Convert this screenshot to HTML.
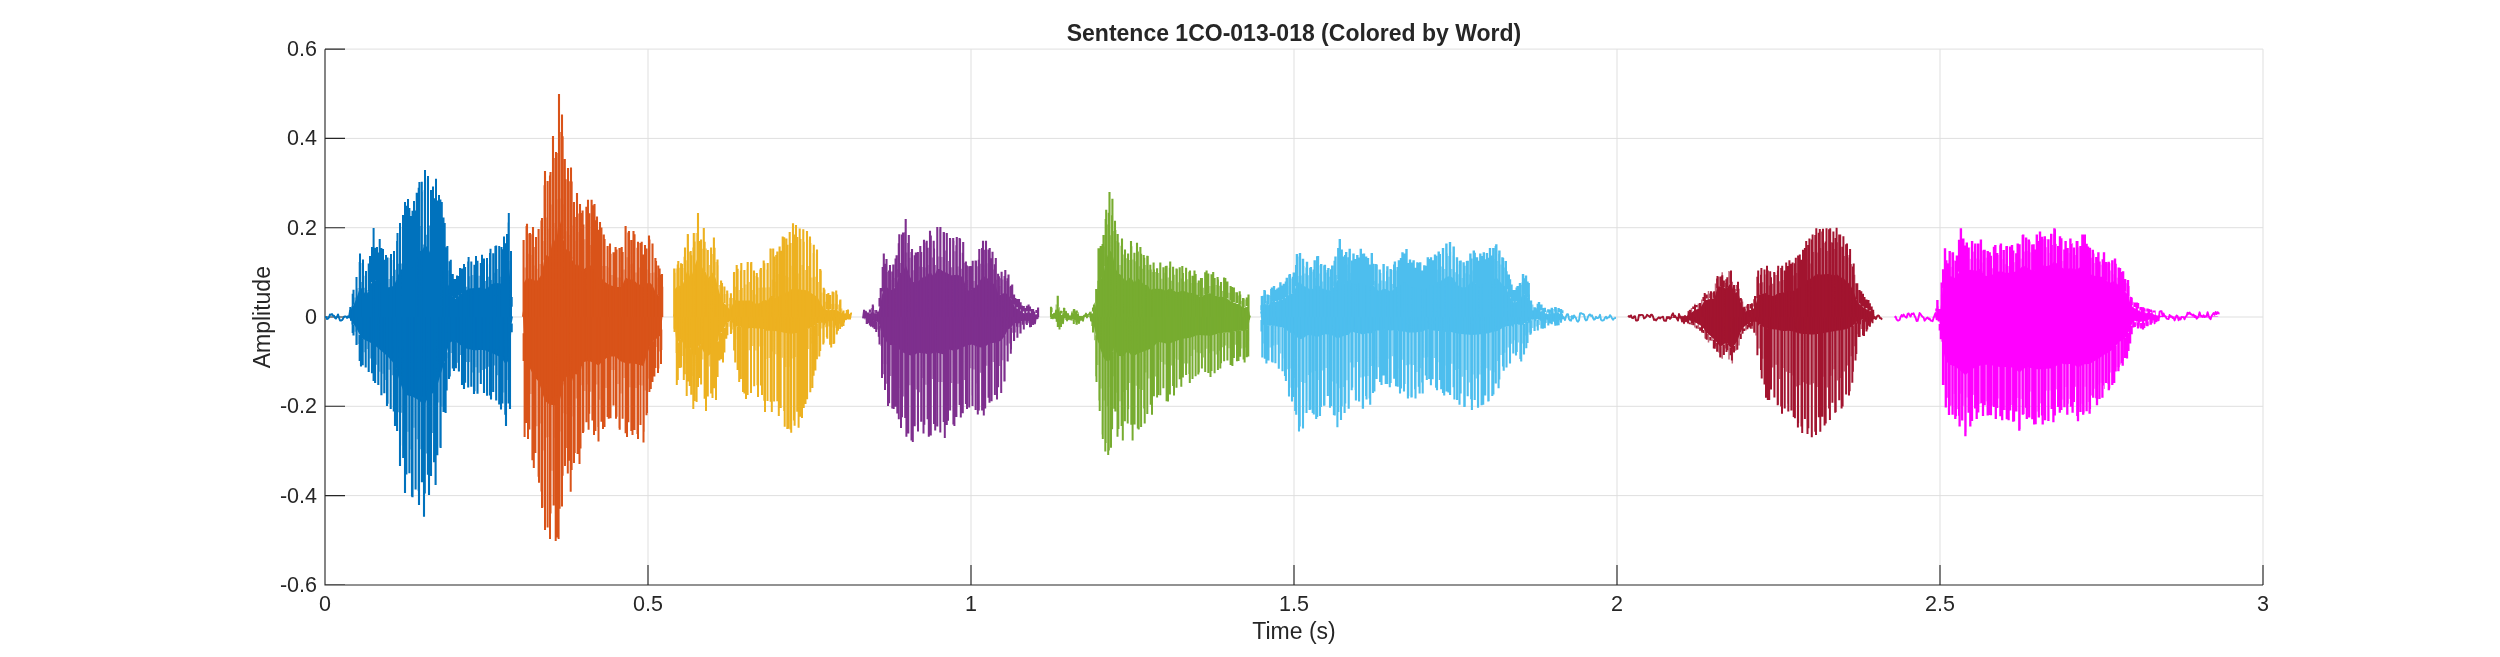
<!DOCTYPE html>
<html><head><meta charset="utf-8"><style>
html,body{margin:0;padding:0;background:#fff;width:2500px;height:657px;overflow:hidden;position:relative;font-family:"Liberation Sans",sans-serif}
</style></head><body>
<svg width="2500" height="657" viewBox="0 0 2500 657" style="position:absolute;left:0;top:0;will-change:transform">
<path d="M648.0 49.2V585M971.0 49.2V585M1294.0 49.2V585M1617.0 49.2V585M1940.0 49.2V585M2263.0 49.2V585M325 49.1H2263.0M325 138.4H2263.0M325 227.7H2263.0M325 317.0H2263.0M325 406.3H2263.0M325 495.6H2263.0" stroke="#dfdfdf" stroke-width="1" fill="none"/>
<path d="M325 49.2V585H2263.0M325 49.1H345M325 138.4H345M325 227.7H345M325 317.0H345M325 406.3H345M325 495.6H345M325 584.9H345M325.0 585V565M648.0 585V565M971.0 585V565M1294.0 585V565M1617.0 585V565M1940.0 585V565M2263.0 585V565" stroke="#262626" stroke-width="1.12" fill="none"/>
<path d="M325 317 326 316.9 327 319 328 318.7 329 317.4 330 314.4 331 314.8 332 314.1 333 315.7 334 315.6 335 318 336 318.6 337 316.8 338 314.4 339 317.7 340 320.5 341 320.5 342 320.1 343 318.8 344 316.7 345 316.5 346 316.5 347 317.9 348 316.2 349 317.5 350 310.8 351 320.1 352 308.9 353 318.5 354 313.3 355 321.5 356 316.3 357 323.1 358 311.1 359 320.6 360 312.3 361 323.2 362 311.9 363 321.6 364 314.3 365 319.9 366 314.1 367 322 368 312.6 369 319.5 370 315.8 371 321.8 372 312.2 373 321.5 374 313 375 322.4 376 312.9 377 320 378 308.5 379 317.8 380 309.3 381 319.3 382 315.6 383 322.4 384 314.9 385 319.8 386 313.9 387 322.9 388 316.1 389 322.7 390 312.6 391 323.8 392 316.7 393 321 394 308.6 395 318.8 396 317.4 397 325.4 398 316 399 324.1 400 314.5 401 319.8 402 309 403 321.5 404 312.3 405 319.4 406 309.4 407 318.4 408 310.2 409 320.8 410 313.8 411 319.4 412 308 413 321.9 414 314.6 415 325 416 314.6 417 323.8 418 311.9 419 322.1 420 314.5 421 317.4 422 311 423 318.7 424 313.1 425 317.8 426 310.5 427 320.9 428 311.6 429 319.9 430 310.6 431 321.6 432 315.1 433 320.7 434 308 435 320.5 436 313.7 437 322.1 438 313.6 439 322.7 440 310.2 441 319.1 442 313 443 322.9 444 315.4 445 318.4 446 310.6 447 319.4 448 313.6 449 320.7 450 312.3 451 318 452 313.2 453 320.9 454 311.7 455 318.1 456 309 457 319.1 458 308 459 317.5 460 314.7 461 320 462 311.2 463 318.8 464 314 465 318.9 466 309.9 467 326 468 317.7 469 319.7 470 310 471 321 472 312 473 318.3 474 314.3 475 320.5 476 309.4 477 317.1 478 311.7 479 322.5 480 312.1 481 321.8 482 316.3 483 321.4 484 311 485 322 486 313.9 487 319.1 488 308 489 318.3 490 316.4 491 323.5 492 314.4 493 317.7 494 314.3 495 321.7 496 315.8 497 321.2 498 315.1 499 324 500 313.8 501 319.1 502 313.4 503 319.6 504 313.4 505 319.2 506 313.8 507 318.8 508 309.9 509 317.1 510 309.7 511 321.9 512 316.4" stroke="#0072bd" stroke-width="1.9" fill="none" stroke-linejoin="round"/>
<path d="M325 317 326 317 327 317 328 317 329 317 330 317 331 317 332 317 333 317 334 317 335 317 336 317 337 317 338 317 339 317 340 317 341 317 342 317 343 317 344 317 345 317 346 317 347 317 348 317 349 315.9 350 314.4 351 312 352 309 353 306.2 354 304 355 301.8 356 299.6 357 296.8 358 293.5 359 290.1 360 286.8 361 287.8 362 288.8 363 289.8 364 291.7 365 293.6 366 295.5 367 293.6 368 291.8 369 289.9 370 288 371 284.1 372 280.2 373 276.3 374 275.1 375 277.9 376 280.7 377 283.5 378 282 379 280.5 380 280 381 281.5 382 283 383 284.5 384 285.5 385 286.5 386 287.5 387 287.4 388 287.3 389 287.2 390 287.1 391 287 392 286.5 393 286 394 285.5 395 282.9 396 280.4 397 277.8 398 275.5 399 273.5 400 271.5 401 270.2 402 268.8 403 267.5 404 264.2 405 261 406 260.5 407 260 408 259.5 409 262.3 410 265.2 411 268 412 265.5 413 263 414 260.5 415 259 416 257.4 417 255.8 418 253.8 419 251.8 420 251 421 250.9 422 250.5 423 248.7 424 246.8 425 245 426 246 427 247 428 248 429 250.3 430 252.7 431 255 432 254.2 433 253.3 434 252 435 250.7 436 249.4 437 252.1 438 254.8 439 257.5 440 258.8 441 260 442 261.7 443 265.3 444 269 445 272.8 446 277 447 281.3 448 284.2 449 286.2 450 288.2 451 290.5 452 293.5 453 296.5 454 299.5 455 298.9 456 298.3 457 297.8 458 296.5 459 295.2 460 294 461 293.5 462 293 463 292.5 464 292 465 291.2 466 290.5 467 289.7 468 289 469 288.5 470 288.4 471 288.3 472 288.3 473 288.2 474 288.1 475 288.1 476 288 477 287.9 478 287.8 479 287.7 480 287.6 481 287.5 482 287.4 483 287.7 484 288 485 288.4 486 288.7 487 289 488 287.7 489 286.3 490 285 491 284.2 492 283.9 493 283.7 494 283.4 495 283.1 496 283 497 283.1 498 283.2 499 283.3 500 283.4 501 283.5 502 282.4 503 280.4 504 278.2 505 277.8 506 277.4 507 277 508 271.2 509 268.2 510 276.9 511 285.5 512 317 L512 317 511 336.1 510 357.1 509 359 508 360.9 507 362.8 506 364.7 505 363.2 504 361.7 503 360.2 502 358.8 501 357.3 500 356.8 499 356.4 498 355.9 497 355.5 496 355 495 354.6 494 354.1 493 353.7 492 353.2 491 352.8 490 352.4 489 351.9 488 351.5 487 351.1 486 350.7 485 350.3 484 349.9 483 349.9 482 349.9 481 350 480 350 479 350.1 478 350.1 477 350.2 476 350.2 475 350.3 474 350.3 473 350.1 472 349.9 471 349.6 470 349.4 469 349.2 468 348.9 467 348.7 466 348.5 465 348.3 464 348.1 463 347.2 462 346.4 461 345.6 460 344.8 459 344 458 343.2 457 342.4 456 341.6 455 340.8 454 339.9 453 340.7 452 341.4 451 342.1 450 342.8 449 343.6 448 348.1 447 352.6 446 357.1 445 360.7 444 363.9 443 367 442 370.2 441 373.3 440 376.6 439 379.9 438 383.3 437 386.6 436 389.9 435 391.7 434 392.3 433 393 432 393.7 431 394.4 430 395.1 429 395.8 428 397.7 427 399.7 426 401.6 425 403.6 424 405.5 423 404.5 422 403.4 421 402.4 420 401.3 419 400.2 418 399.7 417 399.2 416 398.6 415 398.1 414 397.6 413 397 412 396.5 411 396.2 410 396 409 395.8 408 395.5 407 395.3 406 395.1 405 394.9 404 392.4 403 390 402 387.6 401 385.1 400 382.7 399 379.1 398 375.5 397 371.9 396 368.3 395 364.7 394 363.6 393 362.4 392 361.3 391 360.2 390 359.1 389 357.9 388 356.8 387 355.7 386 354.9 385 354 384 353.2 383 352.3 382 351.5 381 350.7 380 349.8 379 349 378 348.1 377 347.3 376 346.5 375 345.6 374 344.8 373 344.1 372 343.6 371 343.1 370 342.6 369 342.1 368 341.5 367 341 366 340.5 365 340 364 339.4 363 338.9 362 338.4 361 337.9 360 335.7 359 333.6 358 331.5 357 329.3 356 327.5 355 326.1 354 324.7 353 323.3 352 321.2 351 318.8 350 317.2 349 317 348 317 347 317 346 317 345 317 344 317 343 317 342 317 341 317 340 317 339 317 338 317 337 317 336 317 335 317 334 317 333 317 332 317 331 317 330 317 329 317 328 317 327 317 326 317 325 317Z" fill="#0072bd"/>
<path d="M351.9 306.2V324.4M355.1 297.6V331.7M358.1 288.3V343.9M361.3 282V348.5M364.2 287.7V352.2M367.2 290.3V349.1M370.3 275.6V358.6M373.5 255.4V354.8M376.6 268V364.7M379.8 269.8V371.8M383 273.3V373.7M385.9 283.5V379.9M389.1 279V369.7M392.3 276V375.3M395.3 269.7V383.7M398.6 263.7V412.3M401.7 263.6V412.8M404.8 257.3V423.3M408 245.3V431.8M411 246.9V449.4M414 247.8V427.7M417.2 248.9V439.3M420.2 225.9V449.3M423.4 244.4V446.2M426.4 234.7V453.4M429.5 225.6V440.3M432.6 226.9V432.9M435.7 243.9V437.6M438.8 242.4V402.6M441.9 245.1V406.8M445 257.7V381.8M448.2 270.4V358.2M451.2 278.7V352.9M454.3 295.7V349.5M457.5 287.6V362.8M460.4 288.2V355M463.5 282.5V362.6M466.6 286.8V362.1M469.7 276.3V362.1M472.8 275V372.6M476 275.4V367.2M479.1 275.8V372.7M482.3 278.9V369.9M485.6 280.9V368.8M488.6 276.8V366.7M491.5 280V364.6M494.7 272.7V365.4M497.7 269.1V375.2M500.8 276.8V368.9M503.9 265.8V392.6M506.9 263.9V379.9M510.2 261.1V369.7" stroke="#0072bd" stroke-width="1.20" stroke-opacity="0.65" fill="none"/>
<path d="M350.3 307.1V312.4M353.5 289.7V304.5M356.5 281.5V298.5M359.7 262.1V288.9M362.7 262.9V290.4M365.7 275.8V295.3M368.7 263.6V291.2M372 247V282.1M375.1 247.8V280.3M378.3 252.5V283.4M381.4 248.1V283.8M384.3 259.8V287.1M387.5 257.5V288.5M390.7 258.1V288.2M393.8 260.1V287M397.1 240.9V279.8M400.1 227.1V274.1M403.2 219.8V270M406.4 205.7V264.2M409.4 207.9V267.1M412.5 210.7V267.7M415.6 210.4V262.1M418.7 187.8V257.1M421.9 191.7V255.6M424.8 189.9V250.7M427.9 178.5V253M431 201.8V259.4M434.1 198.3V256.6M437.3 200.6V257.5M440.4 199.6V263.2M443.5 217.6V270.2M446.6 247.3V281.6M449.7 261.2V288.7M452.8 273.9V296.1M455.9 279.1V298.4M458.9 275.9V295.8M462 268.6V293.6M465.1 266.9V292M468.2 261.4V289.8M471.3 261.5V289.4M474.4 264.8V289.2M477.5 260.8V289M480.8 263V288.7M484 258.6V289.1M487.1 264.2V289.9M490 253V286.4M493.2 253.2V285.2M496.2 245.6V284.7M499.2 246.1V284.9M502.4 249.2V283.4M505.3 243.2V279.8M508.6 222.4V270.8M511.7 297.1V306.8M350.4 307.5V317M352.7 293.8V317M356.5 277V317M360 253.6V317M363 259.6V317M366 271V317M370 256V317M373.6 228V317M377 247V317M379.7 239V317M383 249V317M386 255V317M391 254V317M394 251V317M397.5 233V317M400 223V317M403 215V317M405 202V317M408 199V317M411 216V317M414 201V317M416.7 192.7V317M419.4 182V317M421.8 181.7V317M425 170V317M428 176V317M431 190V317M433 186.6V317M436 178.8V317M439 195V317M441.8 202V317M444.7 223V317M447.4 246V317M450.8 259.7V317M454 279V317M457 275.5V317M460 268V317M464 264V317M468.6 257V317M476 256V317M482 254.8V317M487 258V317M490.5 248.7V317M495.4 246V317M501.5 247V317M504 236.5V317M507 234V317M508.8 213V317M511 251V317" stroke="#0072bd" stroke-width="2.0" fill="none"/>
<path d="M353.5 335.6V324.9M356.5 343.5V328.8M359.7 361V334.9M362.7 365.2V338.2M365.7 367.4V339.6M368.7 371.9V341M372 373.3V342.6M375.1 383V344.5M378.3 385.1V346.9M381.4 395.2V349.2M384.3 393.3V351.4M387.5 403.7V354M390.7 408.9V357.2M393.8 411.4V360.3M397.1 431V368.2M400.1 445.5V378.1M403.2 458V384.8M406.4 474.6V389M409.4 473.3V389.6M412.5 497.3V390.4M415.6 489.6V391.9M418.7 490.8V393.4M421.9 482.2V396.3M424.8 493.4V396.8M427.9 474.8V391.4M431 475.9V388.3M434.1 462.2V386.4M437.3 455.2V380.4M440.4 446.8V371.2M443.5 412V362.4M446.6 390.6V352.2M449.7 376.4V342.1M452.8 368.4V340.1M455.9 368.2V340.7M458.9 371.5V342.8M462 385.1V345.1M465.1 382.8V346.8M468.2 387.6V347.4M471.3 386.8V348M474.4 391.3V348.6M477.5 393.7V348.4M480.8 383.9V348.3M484 391.1V348.2M487.1 395.8V349.3M490 395.6V350.4M493.2 392V351.7M496.2 400.6V352.9M499.2 404.4V354.1M502.4 403.4V356.7M505.3 414.7V360.6M508.6 403.4V357.1M511.7 332.2V323.4M352.7 317V333M356.5 317V345M361 317V366.4M373.6 317V381M387 317V406M395 317V426M400 317V466M405 317V493M412 317V496.6M419 317V505M424 317V516.7M429 317V495M435.6 317V485M440.6 317V448M445.6 317V413M449 317V379M454 317V371M464 317V389M474 317V394M484 317V393M491 317V399.5M501 317V409.5M506 317V426M510 317V409" stroke="#0072bd" stroke-width="2.1" fill="none"/>
<path d="M523 316.7 524 310.6 525 320.6 526 314.9 527 321.7 528 309.6 529 319.7 530 313.2 531 320.9 532 313 533 319.9 534 313.9 535 320.7 536 315.6 537 319.7 538 310 539 318.7 540 312.2 541 318.7 542 312.2 543 317.8 544 311.3 545 318.4 546 309.5 547 320.2 548 315.2 549 319.1 550 312.9 551 320 552 310.5 553 319.8 554 315.2 555 318.3 556 308 557 315.4 558 311.1 559 320.7 560 313 561 323.7 562 315.3 563 321.5 564 312.6 565 323.3 566 312.7 567 321 568 313.2 569 317.5 570 311.9 571 321.2 572 313.3 573 324.4 574 314.1 575 320.7 576 308.9 577 316.5 578 313.1 579 318 580 310.2 581 323.5 582 313.7 583 318.3 584 312.8 585 322.6 586 315.9 587 321.7 588 313.5 589 322.8 590 316.3 591 326 592 317.5 593 326 594 314.4 595 320.7 596 314.6 597 323.8 598 311.3 599 318.8 600 310.4 601 320.7 602 314 603 322.8 604 308.8 605 316.4 606 312 607 322.9 608 315.7 609 325 610 312.6 611 319.7 612 314.3 613 318.9 614 310.5 615 319.6 616 314.9 617 321 618 312.1 619 323.2 620 316.5 621 320.8 622 308.8 623 317.1 624 310.4 625 318.5 626 311.7 627 321.9 628 314.7 629 322.1 630 314.2 631 322.6 632 314.5 633 322.3 634 315 635 323.2 636 315.8 637 321.8 638 310.6 639 316.9 640 310.2 641 321.5 642 313 643 318.5 644 311.1 645 318 646 313.4 647 319 648 313.3 649 321.9 650 313.6 651 317 652 309.6 653 318.2 654 310.1 655 320.6 656 316.3 657 324 658 312.9 659 318 660 310.5 661 321.5 662 312.5" stroke="#d95319" stroke-width="1.9" fill="none" stroke-linejoin="round"/>
<path d="M523 317 524 282.8 525 280.7 526 278.6 527 276.4 528 277.8 529 279.2 530 280.6 531 279.6 532 278.8 533 277.9 534 279.4 535 280.9 536 282.4 537 281 538 279.6 539 278.2 540 276.7 541 275.3 542 273.8 543 266.8 544 259.7 545 252.6 546 254.4 547 256.1 548 256.7 549 255.7 550 254.7 551 248.8 552 242.8 553 236.9 554 239.3 555 241.7 556 244.1 557 235.4 558 226.7 559 218 560 221.1 561 224.2 562 227.3 563 234.4 564 241.5 565 247.5 566 248.8 567 250 568 251.3 569 251.2 570 251.2 571 251.1 572 256.3 573 261.4 574 266.6 575 265.2 576 263.9 577 262.6 578 264.2 579 265.9 580 267.5 581 268.6 582 269.8 583 270.1 584 269.2 585 268.3 586 267.4 587 266.5 588 265.6 589 265.6 590 265.6 591 265.6 592 265.9 593 266.5 594 267.2 595 268.6 596 270.9 597 273.2 598 274 599 274.8 600 275.6 601 277.1 602 278.6 603 280 604 281.4 605 282 606 282.7 607 283.3 608 284 609 284.6 610 285.3 611 285.6 612 285.8 613 286.1 614 286.4 615 286.7 616 286.9 617 286.9 618 286.9 619 286.9 620 286.9 621 286.9 622 286.1 623 283.7 624 281.3 625 278.9 626 277.7 627 278.3 628 279 629 279.6 630 279.6 631 279.6 632 279.6 633 279.6 634 280.2 635 281.3 636 282.3 637 283.4 638 284.5 639 284.5 640 284.5 641 284.5 642 284.6 643 285.1 644 285.5 645 285.9 646 284.9 647 283.8 648 282.8 649 281.7 650 282.7 651 283.8 652 284.8 653 286.4 654 288.6 655 290.9 656 293.1 657 294.1 658 295 659 296 660 296.9 661 298 662 299 L662 317 661 334.6 660 335.8 659 337 658 338.2 657 338.6 656 339 655 339.4 654 340.2 653 341.6 652 342.9 651 344.3 650 346.6 649 349.1 648 351.7 647 354.2 646 357.6 645 360.9 644 364.3 643 365.9 642 365.6 641 365.4 640 365.1 639 364.9 638 364.6 637 364.3 636 364 635 363.7 634 363.4 633 363.1 632 363.1 631 363.2 630 363.4 629 363.5 628 363.7 627 363.8 626 363.4 625 363 624 362.6 623 362.2 622 361.8 621 361.4 620 361 619 360 618 358.9 617 357.7 616 356.5 615 356.5 614 356.5 613 356.5 612 356.5 611 356.5 610 356.5 609 356.5 608 357 607 357.7 606 358.4 605 359.2 604 359.9 603 360.6 602 361.7 601 362.8 600 363.9 599 365 598 365.3 597 364.7 596 364.1 595 363.6 594 363 593 362.6 592 362.2 591 361.8 590 361.4 589 361 588 361 587 361.3 586 361.5 585 361.7 584 362 583 362.2 582 365.7 581 369.3 580 372.8 579 374.6 578 374.5 577 374.4 576 374.3 575 374.3 574 374.2 573 377.7 572 381.2 571 384.7 570 384 569 381.4 568 378.9 567 377.5 566 376.5 565 375.4 564 380.8 563 386.2 562 391.6 561 395.4 560 399.2 559 403.1 558 404.8 557 405 556 405.3 555 405.3 554 405.2 553 405 552 404.9 551 404.7 550 404.6 549 403.9 548 403.2 547 402.4 546 401.7 545 401 544 398.1 543 395.1 542 392.2 541 388.8 540 385.5 539 382.1 538 380.9 537 379.8 536 378.7 535 377.6 534 376.4 533 374.6 532 372.6 531 370.6 530 368.6 529 366.6 528 364.6 527 364.4 526 364.1 525 363.9 524 345.6 523 317Z" fill="#d95319"/>
<path d="M525.1 267.5V400.3M528.1 253.8V400.6M530.9 254.9V393.9M533.9 265.6V401.9M536.9 268.8V426.2M540.1 263.9V423.5M543 241.1V450.4M546.1 217.4V437.4M549.1 228.7V436.9M552 204.4V470.7M555.1 223.1V437.7M558.1 199.2V440M561.1 198.6V431.5M564.1 204.4V413.3M567.1 231.3V414.3M570.2 234.9V425M573.1 225.5V416.5M576.2 240.8V398.5M579.1 231.9V396.2M582 240.6V385.3M584.9 239.2V391M587.9 236V384.5M590.7 245.1V391.7M593.9 242.3V387M596.9 242.5V384.6M599.8 250.9V399.8M602.9 266.1V393.2M606 266.1V388.1M609.1 267.5V375.1M612 275.1V369.9M615 277.8V370.1M618 277.5V383.9M621 277.5V393.6M624.1 269.6V378M627.1 257.3V384.9M629.9 264.3V387.3M632.8 263.5V384.7M636 272.4V388M639 267.6V384.9M642 275.6V385.6M645.2 270.1V390.4M648 269.4V378.6M650.9 272.9V362.3M654 272.4V352.6M656.9 277.6V346.9M659.8 286.7V351.5M662.8 286.7V317" stroke="#d95319" stroke-width="1.10" stroke-opacity="0.65" fill="none"/>
<path d="M523.6 242.4V285.5M526.6 226V279.6M529.4 233.5V281.8M532.4 234.3V280.6M535.4 246.9V283.4M538.6 239.9V281M541.5 220.6V277.1M544.6 185.2V260.2M547.6 193.9V261.5M550.5 172.1V256.6M553.6 158.1V244.7M556.6 152.9V244.9M559.6 132V227.8M562.6 136.3V238.7M565.6 179.3V253.6M568.7 181.3V256.2M571.6 181.5V258.8M574.7 217.1V269.2M577.6 213.5V267.2M580.5 213.1V271.3M583.4 224.6V272.8M586.4 206.7V270.4M589.2 213.3V269.1M592.4 205.3V269.6M595.4 220.2V272.6M598.3 229.7V276.9M601.4 227.5V280M604.5 239V283.6M607.6 246V285.4M610.5 253.8V287M613.5 252.3V287.7M616.5 249.4V288.2M619.5 248V288.2M622.6 252.1V286.3M625.6 230.4V279.8M628.4 232.5V281.4M631.3 240V281.8M634.5 234.3V282.7M637.5 247.7V285.6M640.5 242.9V286.1M643.7 254.5V286.9M646.5 248.4V286M649.4 239.5V284M652.5 246V286.8M655.4 257.9V292.6M658.3 265.6V295.8M661.3 274.8V298.5M523.6 240V317M527 223.8V317M530 233V317M533 227V317M536 237V317M538.6 229V317M542 218V317M545 171V317M547.6 181V317M550 175.5V317M553 136V317M556 152V317M559 94V317M562 114.6V317M564.8 159V317M568 168V317M571 167.6V317M574 202V317M577 193V317M580 204V317M582.6 210.5V317M588 199.8V317M591.6 199.8V317M594.5 204V317M597 216.6V317M600 222V317M603.8 234.5V317M610 243.5V317M615.6 247V317M621.7 247V317M625.6 226V317M629 231V317M633.5 231V317M638 241.7V317M641.7 241.7V317M645 245V317M649 235.6V317M652.5 243.5V317M656 261V317M659.6 268.5V317M662 274V317" stroke="#d95319" stroke-width="2.1" fill="none"/>
<path d="M523.6 361V333.3M526.6 422.9V361M529.4 429.5V363.8M532.4 460.2V369.2M535.4 453.1V373.4M538.6 476.8V376.6M541.5 491.5V384.6M544.6 507.4V392.9M547.6 527.4V395.7M550.5 513.5V397.3M553.6 505.5V397.7M556.6 537.6V397.8M559.6 508.7V394M562.6 475.8V382.5M565.6 448V371.6M568.7 460.8V375.7M571.6 470.1V377.5M574.7 453.1V370M577.6 454V370.2M580.5 448.5V367.2M583.4 431.7V359M586.4 422.2V358.4M589.2 413.7V358.1M592.4 420.6V359.3M595.4 431V360.5M598.3 426.9V362.1M601.4 421.7V359.2M604.5 426.9V356.7M607.6 417.1V354.7M610.5 418.2V354M613.5 405.6V354M616.5 416.7V354.5M619.5 428.1V357.7M622.6 418.8V359M625.6 433.3V360.1M628.4 422.2V360.4M631.3 431V360M634.5 430.1V360.4M637.5 433.9V361.2M640.5 425V361.8M643.7 431.8V362M646.5 415.3V353.4M649.4 392.1V346.4M652.5 382V341.2M655.4 367.9V338.5M658.3 368.6V337.2M661.3 350V329.4M524.6 317V437M528 317V439M533.8 317V468M539 317V482.7M542 317V508M545 317V530M550 317V539M555.7 317V541M558.6 317V539M562 317V506.4M565 317V466M567.8 317V473.5M570.7 317V491.8M574 317V463M579.5 317V464M583 317V433M588.6 317V429.7M594 317V435M598.5 317V441.4M603 317V429M608.7 317V418.7M616 317V418.7M619.7 317V429.7M627 317V437M632.5 317V435M638 317V439M643.5 317V442.5M647 317V413M650.8 317V389M654.4 317V376.6M658 317V373M661 317V364" stroke="#d95319" stroke-width="2.0" fill="none"/>
<path d="M674 316 675 313.5 676 323.3 677 314.3 678 324.5 679 315.8 680 323.4 681 313.1 682 322.5 683 317.2 684 320.3 685 311.9 686 318.4 687 312.1 688 317.2 689 311.6 690 321.3 691 311.9 692 321.8 693 314.6 694 320.9 695 310.7 696 318.9 697 308 698 317.6 699 311.9 700 321.2 701 310.6 702 320.8 703 314.4 704 319.9 705 313.9 706 324.3 707 314.2 708 323.3 709 314.2 710 323.9 711 311.9 712 318.4 713 308.6 714 317.5 715 312.3 716 325 717 317.2 718 324.3 719 314.3 720 321.9 721 314.5 722 324.1 723 316.7 724 325.5 725 316.5 726 321.4 727 311.9 728 321.7 729 310.7 730 316.8 731 310.5 732 321.5 733 316.4 734 326 735 315.8 736 325.7 737 315.9 738 320.8 739 314.4 740 323.5 741 314.4 742 322.5 743 315.9 744 324.6 745 311.5 746 320.7 747 315.9 748 321.7 749 316.2 750 319 751 309.6 752 322.4 753 315.2 754 326 755 313.1 756 320.9 757 311.4 758 322 759 313.2 760 321.9 761 313.4 762 323.7 763 314.9 764 322.3 765 314.1 766 321.4 767 316.2 768 322.2 769 315.8 770 326 771 315.2 772 321.1 773 310.7 774 322.5 775 314.2 776 321.8 777 314.9 778 320.8 779 312.7 780 319.5 781 310.9 782 322 783 314.8 784 322.1 785 315.9 786 319.6 787 312.3 788 323.2 789 311.3 790 319.8 791 316.6 792 325.2 793 315.7 794 323.5 795 311.1 796 322.2 797 313.4 798 318.1 799 312.8 800 323.2 801 317.9 802 321.5 803 317.1 804 322.2 805 313.5 806 323.7 807 318 808 325.7 809 315.8 810 320.6 811 312.4 812 317.1 813 308 814 317.4 815 314.5 816 320.8 817 310.1 818 321.2 819 310.3 820 317.5 821 311.4 822 322 823 313.9 824 324.4 825 313.9 826 322.6 827 312.9 828 320.4 829 317.4 830 325.6 831 313.4 832 317.4 833 312.2 834 321.5 835 314.5 836 324.9 837 314.8 838 319.4 839 313.8 840 322.8 841 313.9 842 320.6 843 312.5 844 321.9 845 314.5 846 319.3 847 311.6 848 318.5 849 314.7 850 318.9 851 313.4 852 313.5" stroke="#edb120" stroke-width="1.9" fill="none" stroke-linejoin="round"/>
<path d="M674 317 675 288.9 676 287.8 677 286.6 678 285.5 679 285.5 680 286 681 286.5 682 287 683 283.7 684 280.4 685 277.2 686 274.2 687 271.3 688 269.6 689 273.2 690 276.7 691 278.2 692 274.7 693 271.2 694 267.8 695 265 696 262.1 697 259.2 698 256.3 699 264.8 700 273.2 701 271.1 702 269.1 703 267 704 266.1 705 269.4 706 272.7 707 276 708 278.4 709 277.1 710 275.9 711 274.7 712 273.4 713 272.2 714 271.5 715 275.1 716 279.5 717 283.7 718 287.6 719 291.1 720 294.4 721 297.7 722 300.8 723 301.9 724 303 725 304 726 305 727 305.9 728 307.2 729 308.5 730 309.7 731 308.2 732 305.7 733 303.3 734 301.1 735 300.5 736 299.9 737 299.6 738 300 739 300.4 740 300.9 741 300.7 742 300.6 743 300.6 744 300.5 745 300.5 746 300.4 747 300.4 748 300.4 749 300.4 750 300.4 751 300.4 752 301.1 753 302.1 754 303 755 303.3 756 303.6 757 303.8 758 303.5 759 303.2 760 302.9 761 302.2 762 301.3 763 300.5 764 299.9 765 300.1 766 300.3 767 300.5 768 300.2 769 298.5 770 296.9 771 296 772 296 773 296 774 296.6 775 297.2 776 297.9 777 297.5 778 296.7 779 295.9 780 295 781 294 782 293 783 292.3 784 292.4 785 292.6 786 292.7 787 292.4 788 291.8 789 291.2 790 290.5 791 289.7 792 288.8 793 288 794 288.2 795 288.3 796 288.5 797 288.8 798 289.1 799 289.4 800 289.6 801 289.7 802 289.8 803 289.9 804 290 805 290.1 806 290.3 807 290.4 808 291 809 291.6 810 292.2 811 292.9 812 293.6 813 294.3 814 294.9 815 295.4 816 295.9 817 296.3 818 298.1 819 300 820 301.8 821 303.5 822 305.2 823 306.9 824 308.5 825 309.4 826 309.6 827 309.9 828 310.2 829 310.2 830 310.1 831 310 832 309.8 833 309.7 834 309.7 835 309.6 836 309.5 837 310 838 310.7 839 311.4 840 312.1 841 313.1 842 314.2 843 315.4 844 316.5 845 316.3 846 316 847 315.8 848 315.6 849 316.1 850 316.6 851 317 852 317 L852 317 851 317.2 850 317.2 849 317.2 848 317.3 847 317.3 846 317.4 845 317.6 844 317.7 843 317.9 842 318 841 318.2 840 318.3 839 318.5 838 318.6 837 319.1 836 319.6 835 320.1 834 320.6 833 320.8 832 321 831 321.1 830 320.7 829 320.4 828 320 827 319.9 826 320.1 825 320.3 824 320.5 823 320.8 822 321.3 821 321.7 820 322.2 819 322.6 818 323.2 817 323.7 816 324.2 815 324.9 814 325.8 813 326.7 812 327.3 811 327.7 810 328 809 328.4 808 328.7 807 329.1 806 329.4 805 329.9 804 330.5 803 331.1 802 331.7 801 332.1 800 332.6 799 333 798 333.1 797 333.1 796 333 795 332.9 794 333.1 793 333.4 792 333.7 791 333.9 790 333.7 789 333.5 788 333.3 787 333.2 786 333.1 785 333 784 332.8 783 332.6 782 332.3 781 332 780 331.7 779 331.5 778 331.3 777 331.2 776 331.2 775 331.1 774 331 773 330.9 772 330.8 771 330.8 770 330.8 769 330.8 768 330.8 767 330.8 766 330.8 765 330.8 764 329.9 763 329.1 762 328.2 761 328.3 760 328.4 759 328.5 758 328.6 757 328.5 756 328.4 755 328.3 754 328.2 753 328.1 752 328 751 327.9 750 328.1 749 328.3 748 328.5 747 328.7 746 328.9 745 328.5 744 328.1 743 327.8 742 327.4 741 327 740 326.6 739 326.9 738 326.8 737 326.5 736 326.2 735 325.6 734 324.4 733 323 732 321.5 731 320.4 730 320.9 729 321.4 728 321.9 727 322.5 726 323.6 725 326.3 724 329 723 332 722 332.3 721 332.6 720 332.9 719 335.1 718 340.5 717 346.1 716 352 715 352.7 714 352.5 713 352.2 712 352.6 711 353.4 710 354.4 709 355.2 708 356.1 707 357.1 706 357.9 705 355.6 704 353.3 703 351 702 348.7 701 346.3 700 344 699 345.3 698 348.9 697 352.5 696 354.5 695 355.4 694 356.4 693 356.2 692 353.3 691 350.4 690 347.6 689 347.8 688 349.3 687 350.8 686 349.5 685 347 684 344.5 683 342.9 682 341.6 681 340.2 680 338.9 679 340.6 678 343.2 677 345.7 676 338.2 675 328 674 317Z" fill="#edb120"/>
<path d="M676.2 268.5V353M679.5 267.7V351.4M682.8 267.9V355.9M686.2 260.3V363.8M689.5 252V364.8M692.9 247.5V376M696.2 232.9V366M699.7 248.1V355.2M702.8 248.7V359.6M706.2 248.4V382.4M709.5 265.1V366.4M712.8 254.1V362.6M716.1 262.1V371.6M719.3 285.1V340M722.7 294.2V344.7M726 294.1V328.9M729.1 303.9V326.8M732.5 297.9V329.5M735.7 286.7V339.4M739.2 289.9V347.6M742.5 288V350.5M746 284.4V351.6M749.3 282.1V350.3M752.7 290V345.9M755.9 294.5V350.6M759.1 287.7V346.5M762.5 287.6V345.8M765.9 287.6V359.1M769.2 287.2V357.9M772.4 279.8V351.5M775.8 281.8V354.2M779 274V359.2M782.3 276.9V357.8M785.8 275.8V366.9M789 277.2V366.7M792.1 265.8V358.6M795.6 271.3V356.9M798.9 273.5V362.8M802.1 265V361.4M805.4 270.1V354.7M808.7 265.9V349.1M811.9 277.5V343.5M815.2 276.7V335.9M818.5 281.9V335.9M821.9 292.4V328.4M825.4 301.7V327.3M828.6 304.9V326.5M831.8 303.9V327.6M835.2 303.8V327.8M838.4 304.5V322.4M841.7 308.6V321M845.1 313V320M848.4 312.9V319.5" stroke="#edb120" stroke-width="1.40" stroke-opacity="0.65" fill="none"/>
<path d="M674.5 272.7V290M677.8 264.4V286.7M681.1 263.3V287.5M684.6 256.8V280.3M687.9 234.9V271.9M691.2 255.2V279.2M694.5 241.4V269.2M698 224.9V260.3M701.1 239.4V273.4M704.6 241.8V270.7M707.8 253.4V280.2M711.1 247.4V276.6M714.5 247.8V275.4M717.6 265.2V287.3M721.1 280.5V298M724.4 286.6V302.9M727.4 293.6V305.8M730.9 293.2V307.9M734.1 272V301.3M737.6 268.8V300.3M740.9 270.6V301.2M744.4 270V301M747.6 268.7V300.9M751 263.2V300.9M754.2 275.9V303.3M757.5 277.2V303.9M760.9 268.1V302.7M764.3 263.2V300.5M767.5 269.4V301.1M770.7 248.9V297M774.1 256.6V297.5M777.3 251.6V298.1M780.7 250.7V295.5M784.2 237.3V293.8M787.3 244.8V293.6M790.5 243V291.6M793.9 234.6V289.9M797.2 236.9V290.5M800.4 238.9V291.2M803.7 241.7V291.5M807.1 239.4V292M810.3 243V293.7M813.6 253.1V295.8M816.9 253.6V297.2M820.2 269V302.5M823.7 287.7V307.8M826.9 294V309.4M830.1 295.1V309.6M833.5 292.2V309.3M836.8 294.4V309.4M840.1 300.5V311.5M843.5 310.5V314.8M846.8 310V314.8M674.2 268.6V317M678.3 261V317M682 264V317M685 247.6V317M687.8 233.9V317M690.7 251V317M693.8 233V317M698 212.9V317M700 241V317M703.8 228V317M707.8 250V317M713.9 237.5V317M717.5 259.4V317M722 283V317M727.2 290.5V317M730.3 297.8V317M734 273V317M736.7 265V317M741.3 263V317M747.7 262V317M751.3 262V317M754 270.4V317M756.8 273V317M760.4 269.5V317M763.7 260.4V317M767.7 263V317M770.5 248.5V317M773.2 248.5V317M776.3 255V317M779.6 246.6V317M782.7 236.6V317M786.4 238.4V317M789.7 232V317M793 223.3V317M796 225V317M799.7 228.4V317M803.3 229.3V317M807 231V317M810 236.6V317M813.8 244.8V317M817 249.4V317M820.7 270.4V317M824.4 289.6V317M828.4 293V317M832.6 291.4V317M836.2 290.5V317M840.4 299.6V317M848 309.6V317" stroke="#edb120" stroke-width="2.1" fill="none"/>
<path d="M674.5 332V324.1M677.8 379.9V342.6M681.1 367.4V339.7M684.6 374.3V344.6M687.9 381.4V347.8M691.2 394.7V349.3M694.5 400.9V353.6M698 387V347.3M701.1 384.5V345.3M704.6 398.8V352.5M707.8 396.5V354M711.1 393.6V351.3M714.5 388.2V350.7M717.6 377V341.5M721.1 359.2V332.4M724.4 352.4V328.1M727.4 335.2V322.8M730.9 334.1V321M734.1 350.4V324.5M737.6 370V326.4M740.9 379.1V326.5M744.4 393.5V327.7M747.6 394.9V327.9M751 383V327.4M754.2 386.2V327.6M757.5 385.2V327.9M760.9 385.6V327.7M764.3 400.7V329.4M767.5 401V330M770.7 401.7V330M774.1 401.4V330.1M777.3 401.2V330.4M780.7 408.1V331M784.2 411V331.8M787.3 428.9V332.2M790.5 429.6V332.6M793.9 420.6V332M797.2 411.7V332M800.4 416.8V331.4M803.7 407.9V329.8M807.1 399.2V328.4M810.3 392.3V327.4M813.6 375.7V325.8M816.9 359.2V323.6M820.2 351V322.1M823.7 342.8V320.8M826.9 337.2V320.1M830.1 344.7V320.9M833.5 344.1V320.8M836.8 334.4V319.6M840.1 328.9V318.7M843.5 326.1V318.3M674.3 317V328.8M676.8 317V385M679.8 317V368M683.8 317V380M686.7 317V396M689.7 317V386M693.3 317V409M696.6 317V402M699.6 317V378M706 317V411M712.5 317V398M716 317V400M719.4 317V360.5M723 317V362.4M726.3 317V338.7M731.3 317V332.8M735.2 317V362.4M739.2 317V382M743 317V392M746 317V399M751 317V393M758 317V397M762 317V395M765 317V412M771.8 317V412M778.8 317V416M784.7 317V426.8M788.3 317V428.8M791.2 317V432.7M794.6 317V425.8M798.6 317V427.8M802 317V417.9M805.5 317V404M812.4 317V388M815.4 317V370.4M819.3 317V356.5M823.3 317V344.6M827.3 317V338.7M831.2 317V347.6M834.2 317V343.6M838 317V330.8M842 317V326.8" stroke="#edb120" stroke-width="2.0" fill="none"/>
<path d="M863 318.4 864 310.5 865 317.9 866 311.8 867 317.7 868 313.1 869 322.6 870 313.9 871 326 872 313.1 873 320.1 874 315.4 875 321.9 876 313.8 877 321.1 878 312.6 879 317 880 311 881 321.5 882 312.3 883 318.8 884 308 885 318.7 886 317.8 887 326 888 315.7 889 321.6 890 314.9 891 318.8 892 309.9 893 320.2 894 310 895 317.8 896 310 897 318.8 898 314 899 321.3 900 312.6 901 325.2 902 313 903 319.5 904 313.6 905 319.7 906 314.4 907 324.3 908 319.3 909 322.2 910 314.6 911 324.4 912 312.7 913 321.4 914 313.4 915 317.2 916 310.8 917 320.6 918 311.8 919 319.7 920 315.2 921 323.2 922 317.9 923 325.7 924 315.1 925 322.2 926 314.6 927 322.4 928 318 929 326 930 315 931 324.7 932 313.6 933 320.8 934 313.6 935 320.2 936 312.1 937 323 938 315 939 323.6 940 309.8 941 317.7 942 310.9 943 323.4 944 312.8 945 321.7 946 313.4 947 321 948 311.3 949 316.6 950 311.1 951 322.5 952 313.7 953 323.1 954 313.6 955 319.5 956 314 957 317.4 958 308 959 318.7 960 314 961 320 962 312.4 963 322 964 315 965 319.6 966 317.5 967 326 968 315.3 969 321.6 970 318.5 971 324.2 972 315.5 973 321.5 974 315 975 318.6 976 309.5 977 317.9 978 314 979 322.2 980 312.2 981 318.1 982 313.9 983 324.6 984 310.6 985 318.1 986 315 987 323.6 988 314.1 989 324.7 990 315 991 322.4 992 312.3 993 320.9 994 315.1 995 319.7 996 309.4 997 318.4 998 312.6 999 323.1 1000 313.8 1001 319.7 1002 312.7 1003 321.8 1004 311.6 1005 315.8 1006 310 1007 320.3 1008 310.7 1009 320.4 1010 315.6 1011 322.2 1012 310.6 1013 319.3 1014 312.4 1015 317 1016 314.5 1017 326 1018 315.3 1019 322.5 1020 315.5 1021 320.4 1022 313.8 1023 323.7 1024 315.9 1025 320 1026 314 1027 321.1 1028 314.9 1029 320.5 1030 313.9 1031 321.9 1032 312.3 1033 323 1034 312.4 1035 323.5 1036 315.1 1037 318.3 1038 317.1" stroke="#7e2f8e" stroke-width="1.9" fill="none" stroke-linejoin="round"/>
<path d="M863 317 864 315.5 865 315 866 315.3 867 315.6 868 315.8 869 315.3 870 314.4 871 313.5 872 312.6 873 312 874 312.9 875 313.8 876 314.7 877 315.5 878 313.5 879 309.5 880 305.5 881 300.9 882 294.7 883 288.6 884 283.9 885 285.1 886 286.2 887 287.2 888 288.2 889 289.1 890 290.1 891 289.9 892 289.8 893 289.8 894 288.7 895 287.1 896 285.6 897 283 898 278.7 899 274.4 900 273 901 272.7 902 272.4 903 272.2 904 269.4 905 266.7 906 265.6 907 268.4 908 271.3 909 274 910 276.4 911 278.8 912 281.2 913 281.8 914 282.3 915 282.8 916 283.1 917 282.3 918 281.5 919 280.6 920 279.8 921 279 922 278 923 277.1 924 276.2 925 276.4 926 276.6 927 276.2 928 274.5 929 272.9 930 271.2 931 272.7 932 274.2 933 275.6 934 276.1 935 274 936 271.9 937 269.8 938 269.1 939 269.1 940 269.1 941 269.7 942 270.5 943 271.3 944 272.2 945 272.3 946 272.4 947 272.6 948 273.5 949 274.3 950 275.2 951 275.2 952 275.2 953 275.2 954 275.1 955 274.9 956 274.8 957 274.7 958 275 959 275.4 960 275.7 961 276.2 962 276.8 963 277.3 964 280.2 965 283.7 966 287.1 967 290.3 968 290.4 969 290.5 970 290.6 971 290 972 288.7 973 287.7 974 287.7 975 287.7 976 287.7 977 285.8 978 283.8 979 281.8 980 280.4 981 279.2 982 277.9 983 276.7 984 276.7 985 276.7 986 276.7 987 277.8 988 278.9 989 279.9 990 280.9 991 281.6 992 282.4 993 283.3 994 284.3 995 285.4 996 286.8 997 290.1 998 293.3 999 296.2 1000 295.3 1001 294.3 1002 293.7 1003 293.4 1004 293.1 1005 292.9 1006 293.3 1007 294.1 1008 294.9 1009 296 1010 297.5 1011 299 1012 300.5 1013 302.7 1014 305.1 1015 307.5 1016 308.3 1017 308.5 1018 308.6 1019 308.8 1020 310.1 1021 311.4 1022 312.4 1023 312.8 1024 313.2 1025 313.6 1026 313.3 1027 312.7 1028 312.2 1029 312.1 1030 312.9 1031 313.7 1032 314.3 1033 314.6 1034 314.9 1035 315.2 1036 314.9 1037 314.2 1038 313.4 L1038 317 1037 317.7 1036 317.9 1035 318.2 1034 318.5 1033 318.7 1032 319 1031 319.2 1030 319.1 1029 318.9 1028 318.8 1027 318.6 1026 318.9 1025 319.4 1024 319.8 1023 320.2 1022 320.6 1021 321.1 1020 321.5 1019 321.8 1018 322.2 1017 322.6 1016 323 1015 323.3 1014 323.7 1013 325 1012 326.3 1011 327.5 1010 328.4 1009 329.1 1008 329.8 1007 331.3 1006 333.4 1005 335.4 1004 337.1 1003 338.3 1002 339.4 1001 340.5 1000 341 999 341.4 998 341.9 997 342.4 996 342.6 995 342.7 994 342.8 993 343 992 343.1 991 343.3 990 343.4 989 343.8 988 344.5 987 345.3 986 346 985 346.7 984 347.4 983 347.5 982 347.5 981 347.4 980 347.3 979 347.3 978 347.2 977 346.8 976 346.3 975 345.8 974 345.3 973 344.8 972 344.6 971 344.8 970 345 969 345.1 968 345.3 967 345.5 966 345.9 965 346.4 964 346.8 963 347.3 962 347.7 961 348.1 960 348.6 959 349 958 349.4 957 349.8 956 350.2 955 350.7 954 350.8 953 350.6 952 350.3 951 350 950 349.8 949 349.5 948 349.3 947 351 946 352.7 945 354.4 944 354.5 943 354.3 942 354 941 353.8 940 353.5 939 353.3 938 353 937 352.8 936 352.5 935 352.4 934 352.7 933 353 932 353.4 931 353.7 930 354 929 354.3 928 354.2 927 354 926 353.8 925 353.6 924 353.4 923 353.3 922 353.2 921 353 920 352.9 919 352.8 918 352.7 917 353.3 916 354 915 354.6 914 355.3 913 355.9 912 355.8 911 355.6 910 355.3 909 355.1 908 354.8 907 354.5 906 354.2 905 353.6 904 353.1 903 352.6 902 352.1 901 351.6 900 350.3 899 349 898 347.8 897 346.8 896 346.4 895 346 894 345.6 893 345.4 892 345.2 891 345 890 344.9 889 344.7 888 344.5 887 342.8 886 341.1 885 339.4 884 338.1 883 336.8 882 335.6 881 331.4 880 327.3 879 323.2 878 321.9 877 321.3 876 320.7 875 320.2 874 319.8 873 319.6 872 319.3 871 319.1 870 318.9 869 318.7 868 318.5 867 318.3 866 317.6 865 317 864 317 863 317Z" fill="#7e2f8e"/>
<path d="M865.1 311.3V319.4M868.3 313V322.9M871.5 307.9V324.1M874.6 310.1V324.4M877.8 311.3V329.5M881.1 290.6V346.1M884.3 277.5V364.1M887.3 271.9V364.3M890.7 280V375.9M893.9 278.1V380.2M897.2 269V367.6M900.4 263.1V388M903.6 252.5V396.5M906.8 252.6V387.7M909.9 257.7V385.3M913.1 270.2V387.7M916.3 264.9V389.4M919.5 266.6V392.2M922.8 267V378.1M925.9 267.6V384.7M929.2 264.9V399.9M932.4 257.6V379.1M935.6 265V394.5M938.9 256.4V382M941.9 257V382M945.3 250.4V395.6M948.4 260.9V377.6M951.7 267.3V383M955 251.3V382.4M958 266.5V383.7M961.2 268.7V376.5M964.4 262.7V379.9M967.5 280.1V369.9M970.8 282.9V368.2M974 280.9V369.5M977.2 266.3V383.6M980.4 263.8V372.7M983.7 264.7V373.9M986.8 263.3V365.8M990.1 266.5V369.9M993.2 269.5V362.1M996.5 279.7V367.1M999.7 285.9V365.9M1002.8 279.6V360.3M1006.2 281.1V345.6M1009.3 286.8V343.6M1012.6 294.9V332.8M1015.7 303V332.4M1019 301.8V327.3M1022.2 307.4V325.1M1025.4 310.7V323.7M1028.5 306.2V323.2M1031.6 310.2V322.6M1034.7 311.6V321.5M1038 308.7V318.7" stroke="#7e2f8e" stroke-width="1.30" stroke-opacity="0.65" fill="none"/>
<path d="M869.9 309.5V312.7M873 305.9V310.5M876.2 309.9V313.1M879.5 298.1V306.4M882.7 267.1V291.4M885.7 263.7V287M889.1 270.5V290M892.3 271.4V290.6M895.6 258.6V287.3M898.8 243.3V277.4M902 234.6V274.9M905.2 232.2V269.3M908.3 243.1V274.6M911.5 252V281.7M914.7 255.2V284.1M917.9 252.1V283.1M921.2 251.9V280.6M924.3 242.6V278.3M927.6 247.7V277.4M930.8 235.6V274.8M934 248.6V278.1M937.3 226.9V272M940.3 229.3V272M943.7 232V274.5M946.8 243.1V275M950.1 239.2V277.4M953.4 240.7V277.4M956.4 245.2V277M959.6 238.1V277.7M962.8 252.8V279.2M965.9 261.4V287.9M969.2 266.2V291.2M972.4 266.5V289.1M975.6 260.6V288.7M978.8 259.8V283.7M982.1 248V279.8M985.2 249.7V278.7M988.5 249.4V281.1M991.6 258.3V283.6M994.9 264.2V286.4M998.1 273.7V294M1001.2 278.2V294.4M1004.6 276.1V293.4M1007.7 278.3V294.9M1011 285.7V298.8M1014.1 294.4V304.4M1017.4 298.9V307.4M1020.6 302.3V309.4M1023.8 306.1V311.5M1026.9 305.7V311.2M1030 306.6V311.3M1033.1 309V312.9M1036.4 309.9V312.9M864.2 310V317M872.8 304.6V317M880.7 288V317M883.8 253.5V317M886.5 259V317M890 265V317M893.3 264.4V317M896.6 255.3V317M899.3 234.3V317M903 232.5V317M905.7 219V317M908.8 235V317M912 249V317M915.8 252.6V317M920.3 246V317M924 239.8V317M926.7 240.7V317M930 230.7V317M933.7 240.7V317M937.3 227V317M940.4 227V317M944 232.5V317M946.8 233V317M950 238V317M953.2 238V317M956.8 237V317M960 238.9V317M963.2 242V317M966.9 265.4V317M970.5 266V317M972.7 260.8V317M976 260.8V317M979.3 249V317M983 240.7V317M986 240.7V317M989.7 248V317M992.5 251.7V317M995.8 258V317M998.9 276.3V317M1001.6 271.8V317M1005.3 270V317M1008.5 274.5V317M1012.2 284.5V317M1015.3 298V317M1019 299V317M1021.7 305.5V317M1025.3 308V317M1028.6 304.6V317M1031.7 309V317M1038.1 307.4V317" stroke="#7e2f8e" stroke-width="2.1" fill="none"/>
<path d="M866.7 324.1V319.1M869.9 325.5V319.9M873 327.4V320.5M876.2 332.1V321.6M879.5 344.4V325.7M882.7 374.2V335.6M885.7 383.8V339.4M889.1 403.2V343.1M892.3 408.5V343.6M895.6 406.7V344.5M898.8 419.2V346.8M902 417.2V349.7M905.2 417.9V351.2M908.3 433.6V352.2M911.5 440.6V353M914.7 426.2V352.2M917.9 425.2V350.3M921.2 421.8V350.6M924.3 424.7V351M927.6 419.2V351.6M930.8 435.5V351.2M934 424.1V350.3M937.3 426.6V350.4M940.3 432.4V351.1M943.7 421.9V351.9M946.8 424.9V349M950.1 410.5V347.7M953.4 424.5V348.4M956.4 417.1V347.9M959.6 405.1V346.7M962.8 413.3V345.4M965.9 404.1V344.2M969.2 407.4V343.4M972.4 395.5V342.9M975.6 409.9V344.4M978.8 410.5V345.4M982.1 410.6V345.6M985.2 408.5V344.8M988.5 397.7V342.6M991.6 401.3V341.7M994.9 395.1V341.3M998.1 387.2V340.6M1001.2 386.9V339.1M1004.6 381.3V335.5M1007.7 361.4V329.9M1011 349.6V327.7M1014.1 340.8V324.2M1017.4 337.7V323M1020.6 333.4V322M1023.8 329.4V320.7M1026.9 324.8V319.6M1030 327.2V320M1033.1 325.1V319.7M867 317V324M874.5 317V329M878.8 317V336.7M882 317V378M885 317V390M888 317V406M893.7 317V409M897.3 317V413.4M901 317V428M906.4 317V436.8M912.8 317V442M918 317V431.5M923.5 317V433.6M928.8 317V436.8M935.2 317V430.4M944.8 317V437.9M948 317V420.8M954.4 317V426M960.8 317V417.6M967 317V409M972.5 317V406M977.8 317V414.4M983.8 317V415.5M989.5 317V402.7M997 317V399.5M1001.2 317V393M1004.4 317V381.4M1007.6 317V361M1010.8 317V353.7M1014 317V341M1020.4 317V333.5M1026.8 317V325M1031 317V327" stroke="#7e2f8e" stroke-width="2.0" fill="none"/>
<path d="M1051 318.9 1052 314.6 1053 318.4 1054 313.7 1055 318.1 1056 310.5 1057 321 1058 315.2 1059 322 1060 313.6 1061 321.7 1062 316 1063 323.4 1064 313.5 1065 317.4 1066 311.7 1067 320.5 1068 314 1069 319.2 1070 316.3 1071 319.4 1072 313.3 1073 318.9 1074 314.2 1075 319.2 1076 312.4 1077 321.8 1078 314.7 1079 323.1 1080 316.6 1081 319.9 1082 316.7 1083 320.8 1084 315.6 1085 315.9 1086 313.6 1087 317.5 1088 314.9 1089 314.4 1090 312.6 1091 320.4 1092 314.1 1093 322.5 1094 314 1095 323.2 1096 311.8 1097 318.9 1098 312 1099 321.2 1100 311.8 1101 323.3 1102 314.2 1103 322.2 1104 314 1105 326 1106 315.8 1107 318.7 1108 310.7 1109 320.4 1110 316.8 1111 325.5 1112 315.9 1113 323.9 1114 318.4 1115 323.4 1116 314 1117 319.7 1118 312.8 1119 322.4 1120 312.2 1121 322.8 1122 309 1123 316.6 1124 313.7 1125 322.8 1126 311.5 1127 317.7 1128 311.2 1129 318.9 1130 312.4 1131 318.7 1132 316.7 1133 325.6 1134 314.2 1135 322.3 1136 313.1 1137 319 1138 313.8 1139 320.2 1140 314.2 1141 325 1142 318.5 1143 323.2 1144 311.1 1145 318.6 1146 313.7 1147 319.3 1148 308 1149 318 1150 313.4 1151 323.8 1152 312.6 1153 322.8 1154 315.9 1155 323.3 1156 315.5 1157 318.6 1158 313.3 1159 319.5 1160 312.8 1161 320.3 1162 310.9 1163 316.5 1164 309.9 1165 319.2 1166 309.4 1167 319.6 1168 312.6 1169 322 1170 308 1171 318.9 1172 311.5 1173 317.2 1174 310 1175 321.9 1176 313.6 1177 320 1178 313.8 1179 322.8 1180 314.3 1181 323.1 1182 316.3 1183 323.4 1184 312.4 1185 322.1 1186 316.9 1187 322.5 1188 314 1189 318.8 1190 311.3 1191 322.4 1192 311.6 1193 320.6 1194 314.8 1195 323 1196 313.3 1197 320.4 1198 310 1199 318.3 1200 315.2 1201 326 1202 314.4 1203 319.6 1204 310.8 1205 323.9 1206 315.3 1207 321.3 1208 310 1209 317.4 1210 308 1211 316.1 1212 310.8 1213 322.1 1214 313 1215 322.2 1216 315 1217 324 1218 317.3 1219 322.7 1220 312.3 1221 320.5 1222 310.4 1223 322 1224 316.1 1225 322.1 1226 311.1 1227 316.5 1228 310.6 1229 320.7 1230 310.6 1231 319.6 1232 310.5 1233 318.2 1234 314.1 1235 325.2 1236 317.9 1237 324.2 1238 309.1 1239 319.2 1240 308.2 1241 317.3 1242 312.9 1243 321.8 1244 311.9 1245 321.3 1246 314.7 1247 316.6 1248 310.6 1249 319 1250 315.5" stroke="#77ac30" stroke-width="1.9" fill="none" stroke-linejoin="round"/>
<path d="M1051 313 1052 314.1 1053 315.2 1054 316.3 1055 314.7 1056 311.8 1057 308.9 1058 307.7 1059 310.2 1060 312.8 1061 315.4 1062 314.8 1063 314.3 1064 313.8 1065 314.1 1066 314.8 1067 315.5 1068 316.2 1069 316.5 1070 316.1 1071 315.7 1072 315.2 1073 314.8 1074 314.3 1075 314.6 1076 315 1077 315.4 1078 315.8 1079 316.2 1080 316.4 1081 316.3 1082 316.2 1083 316.2 1084 316.1 1085 316.1 1086 316.2 1087 316.2 1088 316.3 1089 316.3 1090 316.4 1091 316.2 1092 314.7 1093 313.3 1094 311.8 1095 308.1 1096 304.4 1097 296.1 1098 286 1099 280.6 1100 280 1101 279 1102 276.8 1103 274.6 1104 271 1105 265.8 1106 260.7 1107 257.3 1108 254.3 1109 251.4 1110 250.5 1111 251.8 1112 253.1 1113 256.4 1114 261 1115 265.7 1116 268.4 1117 271.1 1118 273.2 1119 273.7 1120 274.3 1121 274.9 1122 275.4 1123 277.4 1124 279.5 1125 281.5 1126 280.7 1127 279.9 1128 279.2 1129 278.4 1130 277.6 1131 276.9 1132 278.7 1133 280.6 1134 282.5 1135 282 1136 279.9 1137 277.8 1138 278.5 1139 279.2 1140 279.9 1141 280.9 1142 282.3 1143 283.6 1144 284.6 1145 284.7 1146 284.9 1147 285 1148 285.7 1149 287.5 1150 289.4 1151 289.7 1152 289.3 1153 288.9 1154 288.7 1155 288.7 1156 288.7 1157 288.7 1158 288.7 1159 288.7 1160 288.7 1161 289 1162 289.3 1163 289.6 1164 290 1165 290.3 1166 290.5 1167 289.9 1168 289.4 1169 288.8 1170 288.2 1171 288.6 1172 289.3 1173 289.9 1174 290.6 1175 291.2 1176 291.9 1177 292.3 1178 292 1179 291.7 1180 291.4 1181 291 1182 290.7 1183 290.8 1184 291.1 1185 291.4 1186 291.8 1187 292.1 1188 292.4 1189 292.7 1190 293 1191 293 1192 293 1193 293 1194 293 1195 293.3 1196 294 1197 294.6 1198 295.3 1199 295.9 1200 296.6 1201 297.2 1202 296.5 1203 295.7 1204 295 1205 294.2 1206 293.5 1207 293.1 1208 293.2 1209 293.3 1210 293.5 1211 293.6 1212 293.7 1213 293.9 1214 294.4 1215 295 1216 295.7 1217 296.3 1218 296.7 1219 296.8 1220 296.8 1221 296.9 1222 297 1223 297 1224 297.1 1225 297.2 1226 297.7 1227 298.5 1228 299.2 1229 299.9 1230 300.7 1231 301.4 1232 302.1 1233 302.5 1234 302.8 1235 303.1 1236 303.4 1237 303.7 1238 304 1239 304.3 1240 304.8 1241 306 1242 307.1 1243 308.2 1244 307.9 1245 307.5 1246 307.2 1247 306.8 1248 306.5 1249 310.6 1250 317 L1250 317 1249 323.5 1248 329.2 1247 329.7 1246 330.3 1245 330.8 1244 331 1243 330.9 1242 330.8 1241 330.7 1240 330.7 1239 330.6 1238 330.7 1237 330.9 1236 331.2 1235 331.5 1234 331.7 1233 332 1232 332.2 1231 332.3 1230 332.4 1229 332.4 1228 332.5 1227 332.6 1226 332.6 1225 332.7 1224 332.8 1223 332.8 1222 332.9 1221 333 1220 333.1 1219 333.4 1218 333.7 1217 334 1216 334.3 1215 334.5 1214 334.8 1213 335.1 1212 335.4 1211 335.7 1210 335.8 1209 335.7 1208 335.6 1207 335.6 1206 335.5 1205 335.5 1204 335.4 1203 335.3 1202 335.3 1201 335.2 1200 335.1 1199 335.1 1198 335.1 1197 335.4 1196 335.8 1195 336.1 1194 336.4 1193 336.7 1192 337.1 1191 337.4 1190 337.7 1189 337.9 1188 338.1 1187 338.2 1186 338.4 1185 338.5 1184 338.6 1183 338.8 1182 338.9 1181 339.2 1180 339.5 1179 339.9 1178 340.3 1177 340.7 1176 341.1 1175 341.5 1174 341.9 1173 342.2 1172 342.5 1171 342.9 1170 343.2 1169 343.5 1168 343.9 1167 343.7 1166 343.4 1165 343.2 1164 343 1163 342.8 1162 342.6 1161 342.4 1160 342.2 1159 342 1158 341.8 1157 342.8 1156 343.9 1155 345 1154 346.1 1153 347.2 1152 348.3 1151 348.7 1150 349.1 1149 349.5 1148 349.8 1147 350.2 1146 350.6 1145 351 1144 351.4 1143 351.7 1142 352 1141 352.4 1140 352.7 1139 353 1138 353.5 1137 354.1 1136 354.7 1135 355.3 1134 355.9 1133 356.5 1132 356 1131 354.9 1130 353.8 1129 352.6 1128 351.5 1127 351.9 1126 353.1 1125 354.2 1124 355.4 1123 356.5 1122 356.6 1121 356.3 1120 356.1 1119 355.9 1118 355.7 1117 354.1 1116 351.2 1115 348.3 1114 347.4 1113 351.3 1112 355.2 1111 359.1 1110 360 1109 360.9 1108 361.5 1107 361.1 1106 360.6 1105 359.9 1104 358.2 1103 356.6 1102 353.9 1101 350.9 1100 347.9 1099 344.9 1098 341.9 1097 339 1096 335.2 1095 330.7 1094 326.2 1093 321.7 1092 318.7 1091 318.1 1090 317.4 1089 317 1088 317 1087 317 1086 317 1085 317.1 1084 317.3 1083 317.5 1082 317.6 1081 317.8 1080 318 1079 318.1 1078 318.3 1077 318.5 1076 318.5 1075 318.4 1074 318.3 1073 318.2 1072 318.1 1071 318 1070 317.9 1069 317.8 1068 317.7 1067 317.6 1066 317.5 1065 317.4 1064 317.6 1063 318.1 1062 318.7 1061 319.3 1060 319.9 1059 319.9 1058 319.2 1057 318.6 1056 318 1055 317.4 1054 317 1053 317 1052 317 1051 317Z" fill="#77ac30"/>
<path d="M1056.2 304.5V321.7M1059.4 307.3V325.5M1062.6 310.9V321.7M1065.6 311.5V319.9M1072 311V320.9M1075.4 310.4V322.2M1078.4 312.3V321.4M1091.3 311.5V322M1094.6 302.8V340.3M1097.8 280.7V364.9M1101 262.6V388.4M1104.2 246.7V400.5M1107.3 224.6V406.4M1110.4 235.2V387.1M1113.7 230.9V376.3M1116.9 241.1V392.8M1120 264.9V401.3M1123.2 254.6V392M1126.5 258.2V390.1M1129.7 260V383M1132.9 259.4V384.6M1136.2 262.3V385.8M1139.4 266.2V389M1142.7 268.7V390.1M1145.8 265V372.5M1148.9 269.8V378.4M1152.3 272V369.5M1155.5 271.9V376.5M1158.7 273.1V359.7M1161.9 278.7V362M1165 272.8V364.5M1168.2 277.5V360.9M1171.5 280.8V365.6M1174.7 274.8V358.8M1178.1 282.2V359.7M1181.3 278.6V364.2M1184.5 281.5V363.5M1187.7 279.2V363.5M1191 283.1V355.9M1194.1 283.5V349.8M1197.2 282.7V352.4M1200.4 289.8V353.2M1203.5 287.7V357.5M1206.8 285.1V348.8M1209.9 285.9V353.2M1213.1 285.6V351.2M1216.2 285V354.6M1219.5 285.8V350.8M1222.6 291V347.3M1225.7 286.7V345.4M1229 292.7V348.3M1232.2 291.6V345.6M1235.5 292.3V344.7M1238.6 295.4V341.2M1241.8 301V348.4M1245.2 299.6V347.6M1248.4 297.7V341.3" stroke="#77ac30" stroke-width="1.30" stroke-opacity="0.65" fill="none"/>
<path d="M1051.5 307.7V312M1057.8 295.9V306.2M1061 310.8V313.5M1064 307.8V312.1M1073.8 309.4V312.7M1076.8 310.5V313.5M1093 307.4V311.6M1096.2 289.2V303M1099.4 248.2V282M1102.6 243.9V277.7M1105.7 219.1V265.9M1108.8 212.7V256.4M1112.1 215.2V257.6M1115.3 230V269.5M1118.4 242.6V275.8M1121.6 245.8V277.4M1124.9 258.4V282.8M1128.1 253.4V280.9M1131.3 246.2V279.4M1134.6 260.9V284.3M1137.8 251.4V280.3M1141.1 253.7V282.7M1144.2 257.7V285.9M1147.3 255.7V286.3M1150.7 269.6V290.5M1153.9 269.6V289.6M1157.1 268.2V289.6M1160.3 270.1V289.6M1163.4 267.3V290.5M1166.6 265.8V290.8M1169.9 267.8V289.2M1173.1 266.7V290.7M1176.5 268.4V292.7M1179.7 267.2V292M1182.9 272.9V291.4M1186.1 267.8V292.3M1189.4 271.7V293.3M1192.5 275.7V293.4M1195.6 274V294.1M1198.8 280.6V295.9M1201.9 278V296.6M1205.2 272.2V294.4M1208.3 273.6V293.6M1211.5 274.3V294M1214.6 278V295M1217.9 279.4V296.7M1221 281.9V296.9M1224.1 277.5V297.1M1227.4 281.6V298.6M1230.6 286.1V300.7M1233.9 287.4V302.2M1237 292.2V303M1240.2 294.6V304.3M1243.6 298.3V306.9M1246.8 297.5V305.9M1051 306.8V317M1057.7 295.7V317M1064.3 307.9V317M1074.2 309V317M1094 304.6V317M1096.3 289V317M1098.5 248.3V317M1100.7 246V317M1103.5 235V317M1106.2 209.7V317M1109.5 192V317M1112.4 198.7V317M1115 220.7V317M1117.7 234V317M1122 238.4V317M1125 249.4V317M1131 241V317M1134.4 252.7V317M1137 242.8V317M1140.4 247V317M1143.7 255V317M1147.7 256V317M1150.3 264.8V317M1153.6 262.6V317M1160.3 262.6V317M1165.8 266V317M1170.2 261.5V317M1176.8 269.3V317M1182.3 266V317M1190 270.4V317M1194.5 270.4V317M1201 278V317M1206.6 270.4V317M1213.2 272V317M1217.6 277V317M1225.3 278V317M1232 287V317M1239.7 291.3V317M1243 298V317M1248.5 294.6V317" stroke="#77ac30" stroke-width="2.1" fill="none"/>
<path d="M1057.8 327V320.1M1061 326.9V320.3M1073.8 324.1V319.3M1076.8 324.7V319.5M1093 332.6V322.5M1096.2 376.3V335.3M1099.4 400.4V344.3M1102.6 434.5V352.9M1105.7 443.1V357.3M1108.8 450.4V357.8M1112.1 429.2V352.1M1115.3 411.5V347.1M1118.4 429.1V353.1M1121.6 425.9V353.7M1124.9 421.2V351.8M1128.1 409.3V349.3M1131.3 424.8V352.6M1134.6 424.5V352.9M1137.8 428.4V351.2M1141.1 426.9V350M1144.2 408.5V349.1M1147.3 414V348M1150.7 404.7V346.8M1153.9 396.2V344.5M1157.1 397.6V341.3M1160.3 395.3V340.9M1163.4 388.3V341.5M1166.6 401.3V342.1M1169.9 394.4V341.8M1173.1 385.9V340.8M1176.5 387.7V339.7M1179.7 379.2V338.6M1182.9 377.4V337.8M1186.1 375V337.4M1189.4 374V337M1192.5 379.1V336.1M1195.6 376.2V335.2M1198.8 372.4V334.4M1201.9 368.4V334.6M1205.2 372V334.8M1208.3 373.1V335M1211.5 371V334.9M1214.6 373.3V334.1M1217.9 369.9V333.2M1221 363.3V332.6M1224.1 361.2V332.4M1227.4 360.4V332.2M1230.6 364.9V332M1233.9 358.1V331.5M1237 361.3V330.7M1240.2 356.7V330.5M1243.6 359.5V330.7M1246.8 357.3V329.7M1059.5 317V329.6M1076.5 317V324.7M1092.4 317V326M1096.5 317V382M1099.7 317V411M1102.8 317V439M1105.3 317V451.4M1108.2 317V455M1111 317V447.7M1114.3 317V408.7M1117.5 317V436.8M1122.8 317V440.4M1127.7 317V423.4M1132.6 317V440.4M1138.7 317V429.5M1144.7 317V423.4M1152 317V414.8M1158 317V395M1168 317V401.4M1174 317V395.4M1181.3 317V386.8M1189.8 317V383M1198.3 317V374.6M1210.5 317V377M1220.3 317V368.6M1232.4 317V366M1238.5 317V361M1244.6 317V362.5M1248.3 317V356.4" stroke="#77ac30" stroke-width="2.0" fill="none"/>
<path d="M1261 313.5 1262 310.5 1263 320 1264 316.5 1265 320.3 1266 308 1267 319.5 1268 310.9 1269 324.7 1270 315.8 1271 324.4 1272 317.7 1273 322.6 1274 312.5 1275 321.4 1276 317.7 1277 320.9 1278 313.6 1279 325.2 1280 313.1 1281 318.8 1282 308 1283 319.7 1284 312.6 1285 321.1 1286 311.9 1287 321.7 1288 312.4 1289 317 1290 311.1 1291 319.1 1292 314 1293 320.8 1294 312.9 1295 324 1296 316.4 1297 323.9 1298 315.2 1299 323 1300 314.9 1301 318.4 1302 309.7 1303 322 1304 315.2 1305 325.8 1306 317.2 1307 320.9 1308 311.4 1309 320.9 1310 313.6 1311 318.2 1312 312.4 1313 320.2 1314 313.7 1315 322.2 1316 312.5 1317 320.7 1318 310.8 1319 318.1 1320 313.3 1321 319.9 1322 312.6 1323 319.4 1324 310.9 1325 322.6 1326 314.2 1327 321.4 1328 312.8 1329 321.8 1330 314.8 1331 323.1 1332 313.5 1333 318.1 1334 310.6 1335 321.5 1336 312.7 1337 319.1 1338 311.6 1339 322.5 1340 314.8 1341 326 1342 319.5 1343 324.3 1344 312.9 1345 319.9 1346 310.9 1347 315.7 1348 311.3 1349 321.1 1350 312.8 1351 320.4 1352 310.5 1353 322.1 1354 312.2 1355 320.8 1356 315.6 1357 322.3 1358 315.2 1359 321.6 1360 310.2 1361 319.7 1362 314.4 1363 323.8 1364 315.8 1365 323.3 1366 315.8 1367 321.7 1368 311.5 1369 325.4 1370 318.4 1371 324.4 1372 312.8 1373 325 1374 317.7 1375 324.8 1376 313 1377 321.9 1378 313.9 1379 319 1380 315.1 1381 323.3 1382 314.8 1383 321 1384 315.5 1385 322.5 1386 313.6 1387 322.2 1388 310.7 1389 315.1 1390 308 1391 317.8 1392 314.4 1393 322.1 1394 312.1 1395 320 1396 312.3 1397 320.3 1398 314.5 1399 323 1400 309.2 1401 317.5 1402 313.8 1403 322.1 1404 312.5 1405 321.4 1406 316.1 1407 325.9 1408 312.3 1409 317.4 1410 314.4 1411 320.8 1412 313 1413 320.1 1414 309.7 1415 319.9 1416 315.5 1417 323 1418 313.5 1419 326 1420 313.2 1421 320 1422 308 1423 320.1 1424 309.7 1425 316.9 1426 312.6 1427 324.2 1428 311.4 1429 320.4 1430 314.8 1431 322.8 1432 310 1433 319 1434 312.8 1435 320.1 1436 313.7 1437 319.5 1438 314.7 1439 321.8 1440 309.6 1441 319.9 1442 309.2 1443 320.7 1444 311 1445 323.5 1446 313.1 1447 321.6 1448 314.5 1449 318.7 1450 313 1451 320.7 1452 312.5 1453 325.3 1454 316.9 1455 323 1456 309.4 1457 320.8 1458 312 1459 321.2 1460 312.7 1461 320.2 1462 309.5 1463 316.8 1464 311.9 1465 322.6 1466 311.6 1467 318.9 1468 312.6 1469 321.7 1470 313.4 1471 325.8 1472 315.8 1473 324.8 1474 313.8 1475 324 1476 315.7 1477 319.9 1478 310.9 1479 319.7 1480 314.9 1481 322.6 1482 316.7 1483 326 1484 313.5 1485 320.4 1486 314.8 1487 324.1 1488 311.4 1489 321.5 1490 312.8 1491 318.9 1492 317 1493 325.3 1494 315.4 1495 319.7 1496 311.2 1497 322 1498 313 1499 322.7 1500 311.6 1501 321 1502 315.7 1503 322 1504 316.9 1505 320.8 1506 313.9 1507 319.4 1508 316 1509 322.2 1510 312 1511 324.9 1512 318.8 1513 326 1514 315 1515 318 1516 313.8 1517 321.5 1518 313.4 1519 321.6 1520 312.6 1521 321.6 1522 314.3 1523 323.1 1524 311.8 1525 316.9 1526 309.2 1527 319.4 1528 312.1 1529 322.2 1530 309.8 1531 316.8 1532 311.2 1533 316.3 1534 310.9 1535 320.5 1536 309.6 1537 317 1538 309.4 1539 319 1540 314.7 1541 320.2 1542 311.8 1543 320.7 1544 312.7 1545 322.7 1546 314.3 1547 318.9 1548 315.2 1549 322.7 1550 314.9 1551 321.1 1552 311.4 1553 320.7 1554 314.2 1555 322.9 1556 314.9 1557 321 1558 312.9 1559 319.3 1560 316 1561 322 1562 314.6 1563 318.4 1564 317.8 1565 320.1 1566 316.5 1567 314.1 1568 314.1 1569 319 1570 320.4 1571 320.7 1572 316 1573 318.5 1574 315.4 1575 316.9 1576 318.2 1577 321 1578 321.7 1579 320.3 1580 313.5 1581 313.1 1582 313.6 1583 314 1584 314.6 1585 319 1586 320.5 1587 320 1588 316.7 1589 315.1 1590 314.4 1591 316 1592 315.3 1593 318.1 1594 319.7 1595 319.2 1596 316.8 1597 318.1 1598 318 1599 317.2 1600 314.8 1601 319.8 1602 320.5 1603 320.5 1604 319.9 1605 317.6 1606 316.7 1607 318.4 1608 317.5 1609 317.4 1610 315.2 1611 316.4 1612 318.3 1613 319.8 1614 318.5 1615 318 1616 318.1" stroke="#4dbeee" stroke-width="1.9" fill="none" stroke-linejoin="round"/>
<path d="M1261 317 1262 306.6 1263 305.3 1264 304 1265 303.7 1266 304.6 1267 305.5 1268 305.5 1269 304.6 1270 303.8 1271 303 1272 302.3 1273 301.7 1274 301 1275 301.4 1276 301.8 1277 302.2 1278 301.7 1279 300.6 1280 299.4 1281 299.1 1282 299.3 1283 299.6 1284 299.6 1285 298.4 1286 297.2 1287 296.2 1288 295.5 1289 294.8 1290 294.2 1291 293.9 1292 293.7 1293 293.5 1294 292.6 1295 289.2 1296 285.8 1297 282.8 1298 282.6 1299 282.4 1300 282.2 1301 283.3 1302 284.4 1303 285.5 1304 285.9 1305 286.4 1306 286.8 1307 287.2 1308 288 1309 288.8 1310 289.5 1311 290.1 1312 289.1 1313 288.1 1314 287 1315 286.1 1316 285.4 1317 284.7 1318 283.9 1319 285.4 1320 286.8 1321 288.2 1322 288.6 1323 288.7 1324 288.8 1325 289 1326 289.5 1327 290 1328 290.5 1329 290.5 1330 290.2 1331 289.8 1332 289.5 1333 288.1 1334 286.6 1335 285 1336 283 1337 280.7 1338 278.4 1339 276.1 1340 274.9 1341 278.2 1342 281.5 1343 284 1344 283.3 1345 282.5 1346 281.8 1347 281.2 1348 280.7 1349 280.2 1350 280 1351 280.7 1352 281.4 1353 282.1 1354 282.6 1355 282.8 1356 283.1 1357 283.3 1358 282.7 1359 281.7 1360 280.6 1361 280 1362 280.8 1363 281.6 1364 282.5 1365 283.1 1366 283.8 1367 284.4 1368 285.1 1369 284.3 1370 283.6 1371 282.8 1372 282.6 1373 284.2 1374 285.9 1375 287.5 1376 288.8 1377 289.6 1378 290.3 1379 291.1 1380 291.3 1381 290.6 1382 289.8 1383 289 1384 288.6 1385 289 1386 289.3 1387 289.7 1388 290.1 1389 290.7 1390 291.3 1391 291.8 1392 290.9 1393 289.6 1394 288.3 1395 287.1 1396 286.9 1397 286.7 1398 286.5 1399 286.2 1400 284.9 1401 283.7 1402 282.4 1403 281.5 1404 281.1 1405 280.6 1406 280.2 1407 280.8 1408 282.5 1409 284.2 1410 285.9 1411 286 1412 286.2 1413 286.3 1414 286.5 1415 286.8 1416 287.1 1417 287.4 1418 287.5 1419 287.5 1420 287.5 1421 287.8 1422 288.2 1423 288.7 1424 289.1 1425 288.3 1426 287 1427 285.7 1428 284.6 1429 284.6 1430 284.6 1431 284.6 1432 284.3 1433 283.9 1434 283.5 1435 283.1 1436 282.7 1437 282.2 1438 281.8 1439 281.3 1440 280.9 1441 280.6 1442 280.2 1443 279.8 1444 278.9 1445 278.1 1446 277.2 1447 276.7 1448 276.4 1449 276.2 1450 276 1451 276.7 1452 277.3 1453 278 1454 279.1 1455 280.9 1456 282.8 1457 284.6 1458 285.3 1459 286.1 1460 286.8 1461 287 1462 287.2 1463 287.4 1464 287.4 1465 287.2 1466 287 1467 286.8 1468 285.5 1469 284.2 1470 283 1471 282.2 1472 281.7 1473 281.2 1474 281 1475 282.2 1476 283.4 1477 284.6 1478 284 1479 283.3 1480 282.7 1481 282.3 1482 282.1 1483 281.9 1484 281.8 1485 282 1486 282.1 1487 282.1 1488 281.2 1489 280.3 1490 279.4 1491 279.4 1492 279.4 1493 279.4 1494 278.9 1495 278.2 1496 277.5 1497 278.1 1498 279.2 1499 280.3 1500 281.5 1501 282.8 1502 284.1 1503 285 1504 285.6 1505 286.3 1506 287.3 1507 289.8 1508 292.4 1509 294.9 1510 297 1511 299.2 1512 300.7 1513 301.7 1514 302.7 1515 303 1516 302.3 1517 301.5 1518 300.8 1519 300 1520 299.3 1521 297.6 1522 295.9 1523 294.2 1524 294.5 1525 294.8 1526 295.1 1527 296.6 1528 298.2 1529 300.6 1530 305 1531 309.4 1532 310.3 1533 311.3 1534 312.3 1535 313.2 1536 312.5 1537 311.7 1538 310.9 1539 310.2 1540 310.9 1541 311.7 1542 312.4 1543 313.2 1544 313.6 1545 313.8 1546 313.9 1547 314 1548 314.2 1549 314.3 1550 314.3 1551 314.1 1552 313.9 1553 313.7 1554 313.6 1555 313.4 1556 313.3 1557 313.5 1558 313.6 1559 313.8 1560 314 1561 314.1 1562 314.9 1563 315.7 1564 316.5 1565 317 1566 317 1567 316.9 1568 316.7 1569 316.6 1570 316.5 1571 316.3 1572 316.6 1573 316.9 1574 317 1575 317 1576 317 1577 317 1578 317 1579 317 1580 317 1581 317 1582 316.8 1583 316.7 1584 316.8 1585 316.8 1586 316.8 1587 316.9 1588 316.9 1589 316.9 1590 316.9 1591 317 1592 317 1593 317 1594 317 1595 317 1596 317 1597 317 1598 317 1599 317 1600 317 1601 317 1602 317 1603 317 1604 317 1605 317 1606 317 1607 317 1608 317 1609 317 1610 317 1611 317 1612 317 1613 317 1614 317 1615 316.7 1616 317 L1616 317 1615 317 1614 317 1613 317 1612 317 1611 317 1610 317 1609 317 1608 317 1607 317 1606 317 1605 317 1604 317 1603 317 1602 317 1601 317 1600 317 1599 317 1598 317 1597 317 1596 317 1595 317 1594 317 1593 317 1592 317 1591 317 1590 317 1589 317 1588 317 1587 317 1586 317 1585 317 1584 317 1583 317 1582 317 1581 317 1580 317 1579 317.1 1578 317.1 1577 317.2 1576 317.3 1575 317.3 1574 317.3 1573 317.3 1572 317.2 1571 317.2 1570 317.2 1569 317.2 1568 317.2 1567 317.1 1566 317.1 1565 317.1 1564 317.1 1563 317.1 1562 317.3 1561 317.5 1560 317.6 1559 317.8 1558 318 1557 318.1 1556 318 1555 318 1554 317.9 1553 317.8 1552 317.8 1551 317.7 1550 317.8 1549 318 1548 318.1 1547 318.2 1546 318.3 1545 318.5 1544 318.6 1543 318.7 1542 318.8 1541 318.8 1540 318.9 1539 318.9 1538 319 1537 319 1536 319.1 1535 319.1 1534 319.3 1533 319.5 1532 319.6 1531 319.8 1530 320.2 1529 320.9 1528 321.5 1527 322.2 1526 322.8 1525 323.3 1524 323.8 1523 324.4 1522 324.9 1521 325.3 1520 325 1519 324.8 1518 324.6 1517 324.3 1516 324.1 1515 324.4 1514 324.6 1513 324.9 1512 325.2 1511 325.4 1510 325.7 1509 325.9 1508 326.2 1507 326.4 1506 326.6 1505 326.9 1504 327.1 1503 327.6 1502 328.3 1501 329 1500 329.7 1499 330.4 1498 330.8 1497 331 1496 331.3 1495 331.5 1494 331.7 1493 332 1492 332.3 1491 332.6 1490 332.8 1489 333.1 1488 333.4 1487 333.5 1486 333.6 1485 333.7 1484 333.8 1483 334 1482 334.1 1481 334.2 1480 334.3 1479 334.4 1478 334.6 1477 334.6 1476 334.7 1475 334.8 1474 334.8 1473 334.9 1472 335 1471 334.9 1470 334.8 1469 334.7 1468 334.6 1467 334.6 1466 334.5 1465 334.4 1464 334.3 1463 334.2 1462 334.1 1461 334.1 1460 334 1459 333.8 1458 333.6 1457 333.4 1456 333.2 1455 333 1454 332.8 1453 332.6 1452 332.3 1451 332.1 1450 331.9 1449 331.6 1448 331.5 1447 331.7 1446 331.8 1445 332 1444 332 1443 331.6 1442 331.2 1441 330.9 1440 330.9 1439 331 1438 331 1437 331.1 1436 330.9 1435 330.7 1434 330.6 1433 330.4 1432 330.2 1431 330.1 1430 329.8 1429 329.6 1428 329.3 1427 329.1 1426 329.5 1425 330.2 1424 330.8 1423 331.5 1422 331.7 1421 331.7 1420 331.7 1419 331.8 1418 332.1 1417 332.3 1416 332.6 1415 332.7 1414 332.6 1413 332.6 1412 332.5 1411 332.5 1410 332.6 1409 332.7 1408 332.7 1407 332.4 1406 332 1405 331.6 1404 331.3 1403 331.4 1402 331.5 1401 331.6 1400 331.7 1399 331.3 1398 331 1397 330.6 1396 330.2 1395 330.3 1394 330.3 1393 330.3 1392 330.4 1391 330.4 1390 330.4 1389 330.3 1388 330.2 1387 330 1386 329.8 1385 329.8 1384 329.9 1383 329.9 1382 330 1381 330.1 1380 330.3 1379 330.5 1378 330.6 1377 330.8 1376 331 1375 331.2 1374 331.5 1373 332.2 1372 332.8 1371 333.4 1370 333.9 1369 333.6 1368 333.3 1367 333.1 1366 333.2 1365 333.7 1364 334.2 1363 334.8 1362 334.4 1361 333.9 1360 333.5 1359 333.1 1358 333.1 1357 333.1 1356 333.1 1355 332.7 1354 332.2 1353 331.7 1352 331.2 1351 331.9 1350 333.2 1349 334.4 1348 334.9 1347 335.1 1346 335.3 1345 335.5 1344 335.8 1343 336.2 1342 336.6 1341 337 1340 337.4 1339 337.8 1338 338.2 1337 338.2 1336 337.5 1335 336.8 1334 336.1 1333 335.7 1332 335.3 1331 334.9 1330 334.6 1329 334.5 1328 334.4 1327 334.4 1326 334.3 1325 334.2 1324 334.1 1323 334.7 1322 335.2 1321 335.7 1320 336.2 1319 336.4 1318 336.5 1317 336.7 1316 336.7 1315 336.4 1314 336 1313 335.7 1312 335.5 1311 335.3 1310 335.1 1309 335.1 1308 335.3 1307 335.5 1306 336 1305 336.9 1304 337.8 1303 338.7 1302 338.8 1301 339 1300 339.1 1299 339.3 1298 338.2 1297 337.1 1296 336.1 1295 335.1 1294 334.5 1293 333.9 1292 333.3 1291 333 1290 332.6 1289 332.3 1288 331.3 1287 330.2 1286 329.2 1285 328.2 1284 328 1283 327.7 1282 327.5 1281 327.3 1280 327 1279 326.8 1278 326.6 1277 326.4 1276 326.2 1275 326 1274 325.8 1273 325.6 1272 325.5 1271 325.6 1270 325.6 1269 325.6 1268 325.7 1267 325.7 1266 325.6 1265 325.3 1264 325 1263 324.7 1262 322.6 1261 317Z" fill="#4dbeee"/>
<path d="M1263.3 295.4V343.4M1266.6 301V346.2M1270.2 295.8V347.4M1273.7 290.7V345.4M1277.2 292V344.7M1280.6 292.8V353.5M1284.3 294.5V358.6M1287.6 286.1V369.3M1291.1 278.6V368.5M1294.7 280.6V377.9M1298 276V387.4M1301.5 275.4V381.9M1305 273.4V382.9M1308.4 275.2V375.1M1312 271.8V372.6M1315.5 278.1V371M1319 273.4V380.1M1322.6 281.4V370.4M1326.1 272.5V367.9M1329.6 276.7V369.7M1332.9 281.4V381.6M1336.5 275.1V383.5M1340.1 250.9V388.3M1343.4 271.4V387M1347 264.5V380.3M1350.4 272.9V362.4M1353.9 262.3V367.6M1357.5 269.8V361.9M1360.9 261V377.4M1364.5 273.4V376.5M1367.9 267.2V376M1371.4 265.4V366M1374.8 281V359.8M1378.4 283.6V367.3M1381.9 280.4V358.7M1385.4 281.3V354M1389 276.8V358.7M1392.4 284.1V356.3M1396 270.6V364.5M1399.4 268.8V368.5M1402.8 272.9V359.8M1406.3 269.1V365.2M1409.9 276.6V364.6M1413.4 277.5V365M1416.9 271.5V372M1420.6 277.7V368.2M1423.9 277.1V357.8M1427.5 277V357.3M1430.9 267.6V354.9M1434.4 267.4V358M1437.8 269.6V362.2M1441.5 266.5V364.7M1444.8 269V365.5M1448.4 255.9V363.5M1451.8 269.1V363.7M1455.3 272.3V369.9M1458.9 274.2V369M1462.3 277.9V376.7M1466 273.2V370.1M1469.5 274.4V382.5M1472.9 270.6V374.5M1476.4 275V378.5M1479.9 263.7V374.5M1483.4 261.1V369.1M1487 270V368.2M1490.3 265.9V370.4M1494 259V372.3M1497.6 261.1V360.9M1501 264.4V354.9M1504.7 267.6V352.7M1508.2 281.9V347.4M1511.7 294.4V343.7M1515 293.7V340.2M1518.4 292.5V342.5M1522.2 282.2V343.5M1525.7 284.3V335.5M1529.2 294.5V332.6M1532.7 304.6V327.9M1536.2 308V326.4M1539.5 304.5V325M1543.1 308.2V325.9M1546.5 310.6V323M1550.1 310.4V322.3M1553.5 308.9V321.7M1557 309.7V323.7M1560.4 309.3V321.9" stroke="#4dbeee" stroke-width="1.50" stroke-opacity="0.65" fill="none"/>
<path d="M1261.5 305.3V310.3M1264.8 291V302.9M1268.5 295.1V304.2M1272 287.5V301.7M1275.4 289.8V301.1M1278.8 287.4V300.3M1282.5 285.6V299.2M1285.9 281.6V297.3M1289.4 274.8V294.8M1293 276.7V293.8M1296.2 265V286.2M1299.7 256.6V283.7M1303.2 265.9V286.7M1306.6 267.4V288M1310.3 268V290.4M1313.8 269.4V288.2M1317.2 256.3V285.7M1320.9 265.2V288.9M1324.4 265.4V289.6M1327.8 269.9V291M1331.2 269.2V290.4M1334.7 260.7V286.5M1338.3 248.1V279.6M1341.7 249.5V282.1M1345.2 255V283.8M1348.7 257.3V282M1352.2 260.6V283M1355.7 259.1V284.3M1359.1 257.4V283M1362.8 253.8V282.9M1366.1 256.6V285.1M1369.7 264.6V285.1M1373 263.7V285.5M1376.6 264.4V290M1380.1 273.1V291.8M1383.6 271.2V289.3M1387.2 271.3V290.4M1390.6 269V292.1M1394.2 264.6V288.8M1397.7 267V287.6M1401 257.9V284.9M1404.5 253.5V282.4M1408.2 262.9V284.2M1411.7 262.4V287.2M1415.1 267.7V287.8M1418.8 263V288.4M1422.2 270.6V289.1M1425.8 265.7V288.2M1429.2 259V285.8M1432.6 260.3V285.3M1436.1 255.7V284M1439.8 254V282.6M1443 247.9V281.5M1446.6 253.5V278.7M1450.1 252.1V278M1453.6 255.6V280.2M1457.1 264.4V285.9M1460.6 260.4V287.9M1464.3 265.7V288.3M1467.7 260.8V286.9M1471.2 258.6V283.5M1474.7 252.7V283.2M1478.1 260.7V285.1M1481.6 256V283.6M1485.2 259.3V283.4M1488.6 257.7V282.3M1492.3 255.5V281.1M1495.8 246.1V279.5M1499.3 254.1V282.2M1503 258V286.1M1506.5 271.2V289.3M1510 279.2V296.9M1513.3 290V301.5M1516.7 287.5V301.2M1520.4 284.7V298.4M1524 278.3V294.7M1527.5 281.6V297.3M1530.9 300.7V307.7M1534.5 307.3V311.1M1537.8 303.7V309.6M1541.4 304.6V310.4M1544.8 307.7V312M1548.3 309.3V312.4M1551.8 307.7V312.2M1555.3 306.9V311.6M1558.6 308.1V312M1562.3 310.3V313.3M1261.9 296V317M1264.5 290V317M1267.5 294.5V317M1271.3 289V317M1274 286V317M1277.4 288.4V317M1280.4 282.3V317M1283.8 283.8V317M1286.8 277.7V317M1289.9 274V317M1293.8 272.4V317M1296.9 254V317M1300 253V317M1303 258.7V317M1307 261.8V317M1310.9 267V317M1314.7 260.2V317M1318 256V317M1321.2 264V317M1324.9 264.8V317M1328.4 267.9V317M1332.2 265.6V317M1335.5 256.4V317M1339.8 239V317M1342.8 256.4V317M1346.2 252V317M1349.7 248.8V317M1353.5 253.4V317M1357.3 255V317M1360.8 248.8V317M1364 253.4V317M1368 258V317M1371.8 253V317M1375.6 264V317M1379.7 269.4V317M1383.6 264V317M1387.4 266.3V317M1391.2 270V317M1394.9 261.5V317M1398.9 260.2V317M1402.5 252.2V317M1406.5 249V317M1410 259.5V317M1413.6 260.2V317M1417.4 262.2V317M1420.2 262.2V317M1424.3 265.3V317M1427.8 257.2V317M1431 257.2V317M1435 254.6V317M1438.7 251.6V317M1443 248.8V317M1446.4 243.5V317M1450 242V317M1453.7 246.5V317M1457 257.2V317M1460 261V317M1463.6 262.2V317M1467 261V317M1470.4 253.4V317M1473.8 250.4V317M1477 257.2V317M1480.3 253.4V317M1483.8 252.2V317M1486.9 253V317M1490 248V317M1493.3 248V317M1496.3 244.3V317M1499.4 250.4V317M1502.4 257.2V317M1505.8 261V317M1508.8 274.4V317M1511.5 284.6V317M1514.6 290V317M1517.6 286V317M1520 283V317M1523 274V317M1526 275.5V317M1528.7 283V317M1531 300.6V317M1535 307.4V317M1539 302V317M1543.5 308V317M1549.6 309.4V317M1555.7 307.4V317M1561 309V317" stroke="#4dbeee" stroke-width="2.4" fill="none"/>
<path d="M1261.5 331.6V320.1M1264.8 358.7V325.1M1268.5 360.5V325.5M1272 361.8V325.4M1275.4 363.2V325.9M1278.8 362.5V326.5M1282.5 371.2V327.3M1285.9 381V328.6M1289.4 387.8V331.6M1293 397V332.9M1296.2 414.8V335.1M1299.7 426.6V337.7M1303.2 413V337.1M1306.6 401V334.4M1310.3 409.5V334M1313.8 414.5V334.8M1317.2 417.1V335.4M1320.9 407.1V334.6M1324.4 405.4V333.2M1327.8 396.1V333.4M1331.2 406.1V333.9M1334.7 415.6V335.3M1338.3 412.1V336.7M1341.7 406.6V335.5M1345.2 403.5V334.3M1348.7 398.9V333.7M1352.2 387.4V330.6M1355.7 390V332.1M1359.1 401.4V332.3M1362.8 408.8V333.6M1366.1 396.1V332.2M1369.7 398.4V332.8M1373 392.9V331.4M1376.6 378.9V330.2M1380.1 381.9V329.6M1383.6 375.5V329.3M1387.2 383.9V329.5M1390.6 383.1V329.8M1394.2 378.8V329.7M1397.7 386.8V330.2M1401 388.5V330.8M1404.5 384.1V330.7M1408.2 395.9V331.9M1411.7 397.3V331.7M1415.1 389.3V331.9M1418.8 386.7V331.1M1422.2 382.6V330.9M1425.8 375.6V329.1M1429.2 379V329.1M1432.6 379.2V329.7M1436.1 387.8V330.2M1439.8 380.1V330.3M1443 393V330.9M1446.6 391.6V331M1450.1 394.9V331.1M1453.6 387.3V331.9M1457.1 400.1V332.5M1460.6 393.5V333M1464.3 407V333.3M1467.7 396.3V333.6M1471.2 399.3V333.8M1474.7 399.9V333.7M1478.1 406.1V333.5M1481.6 405.2V333.1M1485.2 395.6V332.7M1488.6 401V332.3M1492.3 396V331.4M1495.8 383.5V330.6M1499.3 379.6V329.6M1503 366.4V327.3M1506.5 367.6V326.3M1510 363.6V325.6M1513.3 353.4V324.8M1516.7 352.1V324.2M1520.4 359V325M1524 354.6V323.9M1527.5 343V322.1M1530.9 333.4V320.3M1534.5 330.9V319.7M1537.8 330.5V319.5M1541.4 328.4V319.3M1544.8 328.3V319.1M1548.3 325.5V318.7M1551.8 324.2V318.4M1555.3 325.8V318.6M1558.6 325.3V318.5M1262.3 317V357.4M1266.4 317V363.6M1272.6 317V362.6M1278.8 317V368.7M1285 317V376M1289 317V396.5M1292 317V401.6M1295.2 317V411M1299 317V431.4M1303 317V428.4M1306.5 317V413M1309.6 317V409.9M1312.7 317V413M1316.2 317V419M1320 317V416M1324 317V405.7M1330 317V407.8M1333.9 317V415M1337.4 317V427.3M1341 317V420M1344.6 317V413M1348.7 317V408.8M1351.7 317V390.3M1355.9 317V400.6M1359 317V400.6M1363 317V408.8M1366.5 317V399.6M1370.2 317V404.7M1374.4 317V391.4M1381.5 317V385M1385.7 317V384M1389.8 317V387.2M1396 317V386.2M1400 317V393.4M1404 317V391.4M1407.9 317V398.6M1411.4 317V397.5M1415.5 317V398.6M1419.6 317V393.4M1422.7 317V393.4M1426.8 317V380M1430.9 317V385.2M1437 317V390.3M1441.2 317V389.3M1444.2 317V395.5M1448.4 317V392.4M1454.4 317V399.6M1459.5 317V404.7M1464.7 317V406.8M1471.9 317V409.9M1478 317V407.8M1483.2 317V404.7M1488.3 317V401.6M1493.4 317V394.4M1498.6 317V388.3M1503.7 317V370.8M1510 317V363.6M1516 317V355.4M1521.2 317V361.6M1526.3 317V348.2M1530.4 317V334.8M1534.6 317V330.7M1542.8 317V328.7M1551 317V323.5M1557.2 317V325.6" stroke="#4dbeee" stroke-width="2.1" fill="none"/>
<path d="M1628 316.9 1629 316.1 1630 316.9 1631 315.4 1632 317.8 1633 318.2 1634 316.5 1635 316.3 1636 320.5 1637 320.5 1638 320.1 1639 314.9 1640 315.3 1641 314.9 1642 314.9 1643 315.3 1644 318.4 1645 317.9 1646 316.8 1647 314.8 1648 315.6 1649 316.1 1650 317.1 1651 314.7 1652 314.7 1653 316.5 1654 320.1 1655 319.3 1656 320.5 1657 319.1 1658 318.1 1659 317.3 1660 318.5 1661 317.4 1662 317.1 1663 316.7 1664 320.6 1665 320.7 1666 320.9 1667 317 1668 318 1669 316.9 1670 318.9 1671 317.8 1672 314.7 1673 313.3 1674 316.5 1675 315.7 1676 317.3 1677 318.7 1678 320.6 1679 314 1680 316.6 1681 316.8 1682 321.5 1683 316.6 1684 323.2 1685 315.9 1686 321.4 1687 317.1 1688 322.1 1689 312 1690 319.7 1691 316.3 1692 322.8 1693 317.7 1694 320.6 1695 312.4 1696 321.8 1697 313.8 1698 322.6 1699 310 1700 318.6 1701 310.8 1702 321 1703 312.7 1704 324.4 1705 314 1706 321.3 1707 311.5 1708 319.3 1709 308.7 1710 317.5 1711 311.5 1712 321 1713 316.4 1714 322.2 1715 313.4 1716 320.7 1717 316.3 1718 323.7 1719 312.7 1720 322.3 1721 310.1 1722 323.3 1723 313.8 1724 322.4 1725 312.5 1726 315.4 1727 309.9 1728 320.9 1729 311.7 1730 318 1731 312.2 1732 319 1733 309.2 1734 319.6 1735 310.5 1736 320.3 1737 315.3 1738 318.7 1739 313.7 1740 324.5 1741 312.4 1742 316.5 1743 308.1 1744 320.9 1745 313.8 1746 324.6 1747 316.9 1748 323.9 1749 313.6 1750 321.4 1751 313.7 1752 325.4 1753 316 1754 320.8 1755 313.9 1756 320.1 1757 312.1 1758 324.7 1759 312.9 1760 323.3 1761 310.9 1762 319.5 1763 312.9 1764 325 1765 319 1766 323.6 1767 309.8 1768 319.4 1769 314.6 1770 318.7 1771 310.6 1772 316 1773 309.9 1774 320.8 1775 313.8 1776 321.1 1777 312.4 1778 320.8 1779 310.4 1780 315.6 1781 313.3 1782 320.8 1783 315.9 1784 324.6 1785 315.1 1786 324 1787 314.9 1788 318.8 1789 314.1 1790 321.5 1791 311.1 1792 319.1 1793 312.8 1794 321.1 1795 311.3 1796 320.4 1797 312.7 1798 323.6 1799 310.2 1800 315.8 1801 313 1802 319.7 1803 313.9 1804 317.2 1805 311.7 1806 322.2 1807 314.7 1808 323.5 1809 315.1 1810 322.9 1811 312.1 1812 316 1813 313.4 1814 325 1815 314 1816 321.7 1817 312.7 1818 317.1 1819 314.7 1820 324.2 1821 313.6 1822 318.6 1823 311.8 1824 319.1 1825 311 1826 318.1 1827 311.6 1828 317.9 1829 309 1830 321 1831 314.6 1832 321.3 1833 312 1834 320 1835 313.8 1836 320.7 1837 313.6 1838 322.8 1839 317.3 1840 322.5 1841 316 1842 321.9 1843 310.6 1844 320.8 1845 314.7 1846 322 1847 312.8 1848 319.7 1849 312.8 1850 322.3 1851 315.9 1852 321.3 1853 314.4 1854 322.3 1855 309.3 1856 319.5 1857 314.5 1858 322.9 1859 317 1860 323.6 1861 308.8 1862 316.7 1863 314.1 1864 325.5 1865 311 1866 320.8 1867 318.2 1868 325.1 1869 316.9 1870 323.6 1871 311.7 1872 320.5 1873 311.3 1874 318.5 1875 317.1 1876 319 1877 316.3 1878 315.4 1879 315.9 1880 318 1881 318.1 1882 319.6" stroke="#a2142f" stroke-width="1.9" fill="none" stroke-linejoin="round"/>
<path d="M1628 316.8 1629 316.8 1630 316.9 1631 317 1632 317 1633 317 1634 317 1635 317 1636 317 1637 317 1638 317 1639 317 1640 317 1641 317 1642 317 1643 317 1644 317 1645 317 1646 317 1647 317 1648 317 1649 317 1650 317 1651 317 1652 317 1653 317 1654 317 1655 317 1656 317 1657 317 1658 317 1659 317 1660 317 1661 317 1662 317 1663 317 1664 317 1665 317 1666 317 1667 317 1668 317 1669 317 1670 317 1671 317 1672 317 1673 317 1674 317 1675 317 1676 317 1677 317 1678 317 1679 317 1680 317 1681 316.9 1682 316.9 1683 316.9 1684 316.8 1685 316.8 1686 316.4 1687 315.8 1688 315.1 1689 314.4 1690 313.8 1691 313 1692 312.2 1693 311.4 1694 310.5 1695 309.7 1696 309.5 1697 309.2 1698 309 1699 308.7 1700 308.4 1701 306.7 1702 304.9 1703 303.2 1704 301.4 1705 300.1 1706 299.9 1707 299.7 1708 299.5 1709 299.3 1710 299.1 1711 298.8 1712 298.8 1713 298.8 1714 298.8 1715 296.2 1716 292.3 1717 288.5 1718 286.5 1719 286.4 1720 286.3 1721 286.2 1722 286.1 1723 286.6 1724 287.4 1725 288.2 1726 289 1727 288.2 1728 286.7 1729 285.2 1730 283.7 1731 282.2 1732 285.7 1733 289.2 1734 292.7 1735 293.3 1736 292.6 1737 291.9 1738 291.2 1739 295.2 1740 299.2 1741 303.2 1742 306.5 1743 308.9 1744 311.3 1745 312.6 1746 311.6 1747 310.6 1748 309.7 1749 309.9 1750 310 1751 310.1 1752 310.2 1753 309 1754 308 1755 307.1 1756 303.4 1757 300 1758 296 1759 294.9 1760 294.5 1761 294.2 1762 293.9 1763 293.7 1764 293.5 1765 293.3 1766 293.1 1767 292.9 1768 293.7 1769 294.6 1770 295.5 1771 295.7 1772 295.8 1773 295.9 1774 296 1775 295.4 1776 294.6 1777 293.8 1778 293 1779 292.9 1780 292.9 1781 292.9 1782 292.9 1783 292.5 1784 292.2 1785 291.8 1786 291.4 1787 291 1788 290.6 1789 290.2 1790 290.3 1791 290.7 1792 291.1 1793 291 1794 290.2 1795 289.5 1796 288.8 1797 288.4 1798 288 1799 287.6 1800 287.1 1801 286.4 1802 285.6 1803 284.9 1804 283.5 1805 282.2 1806 280.8 1807 280.2 1808 279.8 1809 279.5 1810 278.9 1811 278.3 1812 277.7 1813 277 1814 276.1 1815 275.2 1816 274.4 1817 274.2 1818 274.3 1819 274.4 1820 274.5 1821 274.4 1822 274.4 1823 274.4 1824 274.3 1825 274.2 1826 274.1 1827 274.1 1828 274.1 1829 274.1 1830 274.1 1831 274.5 1832 275 1833 275.5 1834 275.4 1835 274.8 1836 274.2 1837 274.2 1838 275.2 1839 276.1 1840 277.1 1841 277.5 1842 277.8 1843 278 1844 278.7 1845 279.7 1846 280.7 1847 281.7 1848 282.6 1849 283.5 1850 284.4 1851 286.3 1852 288.3 1853 290.3 1854 292.5 1855 295.3 1856 298.1 1857 300.8 1858 302.4 1859 303.4 1860 304.4 1861 305.4 1862 306.3 1863 307.2 1864 308.1 1865 308.7 1866 309.1 1867 309.5 1868 309.9 1869 310.6 1870 311.5 1871 312.5 1872 313.6 1873 314.7 1874 315.8 1875 316.9 1876 317 1877 317 1878 317 1879 317 1880 317 1881 317 1882 317 L1882 317 1881 317 1880 317 1879 317 1878 317 1877 317 1876 317.1 1875 317.2 1874 317.3 1873 317.4 1872 317.6 1871 317.8 1870 317.9 1869 318.1 1868 318.3 1867 318.5 1866 318.8 1865 319.1 1864 319.4 1863 319.4 1862 319.5 1861 319.5 1860 319.5 1859 319.5 1858 320.3 1857 321.4 1856 322.5 1855 323.6 1854 324.6 1853 325.7 1852 326.6 1851 327.2 1850 327.8 1849 328.3 1848 328.6 1847 328.9 1846 329.1 1845 329.4 1844 329.6 1843 329.9 1842 330.2 1841 330.3 1840 330.4 1839 330.5 1838 330.6 1837 330.7 1836 330.8 1835 330.9 1834 331.2 1833 331.4 1832 331.6 1831 331.8 1830 332 1829 332.2 1828 332.3 1827 332.5 1826 332.6 1825 332.8 1824 333 1823 333.2 1822 333.4 1821 333.6 1820 333.8 1819 333.9 1818 334 1817 334.1 1816 334.2 1815 334.3 1814 334.4 1813 334.5 1812 334.6 1811 334.5 1810 334.4 1809 334.3 1808 334.2 1807 334.1 1806 334.1 1805 334 1804 334 1803 334 1802 333.9 1801 333.7 1800 333.5 1799 333.3 1798 333.2 1797 332.8 1796 332.4 1795 332 1794 331.7 1793 331.4 1792 331.3 1791 331.1 1790 331 1789 330.8 1788 330.8 1787 330.8 1786 330.9 1785 330.9 1784 331 1783 331 1782 331.1 1781 330.8 1780 330.5 1779 330.2 1778 329.9 1777 329.7 1776 329.6 1775 329.5 1774 329.4 1773 329.3 1772 329.2 1771 329.2 1770 329.1 1769 329 1768 328.9 1767 328.8 1766 328.7 1765 328 1764 327.3 1763 326.7 1762 326 1761 325.2 1760 324.4 1759 323.6 1758 322.8 1757 321.8 1756 322.1 1755 321.5 1754 320.6 1753 320.9 1752 321.2 1751 321.3 1750 321.4 1749 321.3 1748 322.3 1747 323.5 1746 324.7 1745 326.1 1744 326.9 1743 327.6 1742 329.2 1741 331.7 1740 334.1 1739 336.5 1738 338.9 1737 341.2 1736 342.8 1735 344.4 1734 346 1733 347.6 1732 349.2 1731 348.3 1730 347 1729 345.7 1728 344.5 1727 343.2 1726 342.9 1725 343.6 1724 344.3 1723 345 1722 345.6 1721 346.3 1720 346.6 1719 345.3 1718 344 1717 342.8 1716 341.5 1715 340.2 1714 339.2 1713 338.3 1712 337.4 1711 336.5 1710 335.6 1709 334.7 1708 333.8 1707 332.8 1706 331.8 1705 330.4 1704 329.1 1703 327.7 1702 326.4 1701 325.8 1700 325.2 1699 324.6 1698 324 1697 323.3 1696 322.7 1695 322.1 1694 321.5 1693 321.1 1692 320.8 1691 320.4 1690 320.1 1689 319.8 1688 319.5 1687 319.4 1686 319.3 1685 319.2 1684 319.1 1683 318.9 1682 318.8 1681 318.7 1680 318.6 1679 318.5 1678 318.3 1677 318.2 1676 318.1 1675 318 1674 317.9 1673 317.7 1672 317.6 1671 317.5 1670 317.4 1669 317.3 1668 317.2 1667 317 1666 317 1665 317 1664 317 1663 317 1662 317 1661 317 1660 317 1659 317 1658 317 1657 317 1656 317 1655 317 1654 317 1653 317 1652 317 1651 317 1650 317 1649 317 1648 317 1647 317 1646 317 1645 317 1644 317 1643 317 1642 317 1641 317 1640 317 1639 317 1638 317 1637 317 1636 317 1635 317 1634 317 1633 317 1632 317 1631 317 1630 317 1629 317 1628 317Z" fill="#a2142f"/>
<path d="M1688.1 311.1V323.8M1691.5 308V324.9M1694.9 303.7V327.4M1698.4 303.5V328.9M1701.8 299.5V332.8M1705.1 294.2V338.4M1708.5 291.1V342.5M1712 292.7V341.1M1715.5 283.4V346.5M1718.8 277.1V352.6M1722.2 272.2V358.8M1725.6 283.1V348.4M1729 271V359.4M1732.3 281.7V363.6M1735.7 289.1V350.8M1739 288.8V345.4M1742.5 301.5V333M1745.9 306.5V330.6M1749.1 304.1V326.6M1752.5 304.3V328.7M1756 296V335.5M1759.1 283.3V348.6M1762.7 282.2V358.8M1766.2 274.5V360.3M1769.5 285.5V366.9M1772.7 283.7V367.6M1776.1 274.9V364.7M1779.6 281.2V379.1M1782.9 279.9V368.1M1786.4 274.9V371.7M1789.9 268V372.9M1793.1 275.5V375.6M1796.6 273.1V386.5M1799.8 266.9V385.3M1803.2 262.5V382.2M1806.6 258.9V383.8M1810 263.5V384.8M1813.5 251.9V383.2M1817 252.5V386.9M1820.5 248V376.6M1824 243V376.8M1827.4 250.9V387.4M1830.8 242.1V375.7M1834.1 249V369.3M1837.4 242.3V380.5M1840.9 246.8V377.9M1844.3 256.1V371.4M1847.8 257.4V365.4M1851.3 264V356.2M1854.6 274.7V346.2M1858 290.2V334.3M1861.3 296.1V329M1864.7 301.4V329.1M1868.2 305.1V323.9M1871.6 308.9V321.9" stroke="#a2142f" stroke-width="1.50" stroke-opacity="0.65" fill="none"/>
<path d="M1689.8 310.1V311.3M1693.2 306.6V308.9M1696.7 305V307.2M1700.1 302.9V306.3M1703.4 297.1V301M1706.8 294.6V298.6M1710.3 293.6V297.9M1713.8 291.7V297.8M1717.1 278.4V288.2M1720.5 276.5V286.4M1723.9 280.4V287.4M1727.3 277.3V287.7M1730.6 272V283.4M1734 284.9V292.3M1737.3 284.9V291.3M1740.8 298.1V300.8M1744.2 306.7V309.5M1747.4 305.2V308.2M1750.8 304.1V308.4M1754.3 299.2V306.6M1757.4 276.8V298.3M1761 274.8V294.6M1764.5 269.4V293.9M1767.8 270.6V294.1M1771 277.2V296M1774.4 272.8V296.1M1777.9 270.4V293.7M1781.2 267.9V293.5M1784.7 270.4V292.6M1788.2 266.1V291.4M1791.4 263.8V291.7M1794.9 263.3V290.5M1798.1 255.4V289.1M1801.5 259.8V287.3M1804.9 248.1V284M1808.3 244.9V281.6M1811.8 239.6V279.9M1815.3 235.1V277.4M1818.8 232.7V276.8M1822.3 231.6V276.8M1825.7 241.4V276.6M1829.1 229.2V276.6M1832.4 242.5V277.6M1835.7 238.1V276.8M1839.2 234.5V278.6M1842.6 246.8V280M1846.1 244.2V282.6M1849.6 255.1V285.5M1852.9 266.4V291M1856.3 283.2V299M1859.6 290.1V303.5M1863 293.7V306.4M1866.5 299.6V308.2M1869.9 303.3V310.2M1873.2 309.8V313.3M1690.3 309.7V317M1695 304.9V317M1700 303.3V317M1704.7 293V317M1711 291.3V317M1714.3 291.3V317M1717.5 276V317M1722.3 275.3V317M1726.3 279.3V317M1731 270.5V317M1734.3 285V317M1738 281.7V317M1741.5 299.3V317M1744.7 309V317M1747.9 304V317M1751.9 303.3V317M1755 296V317M1758.2 270.5V317M1761.4 268V317M1767 265.7V317M1770.2 271.3V317M1774.2 272V317M1778.2 265.7V317M1782.2 265.7V317M1786.2 262.6V317M1789.4 260.2V317M1792.6 262.6V317M1795.8 257.8V317M1799.8 254.6V317M1803 249.8V317M1806.2 241V317M1809.4 238.6V317M1812.6 234.6V317M1816.3 228.2V317M1819.8 229V317M1823 228.7V317M1826.5 228.2V317M1830.2 228.2V317M1833.4 231.4V317M1836.6 227.7V317M1840.2 234.6V317M1843.4 236.2V317M1847 243.4V317M1850.1 249V317M1853.7 263.4V317M1857.3 283.3V317M1861.3 291.3V317M1864.5 297V317M1868.5 300.1V317M1871.7 306.5V317" stroke="#a2142f" stroke-width="2.0" fill="none"/>
<path d="M1689.8 324.2V322.6M1693.2 325.1V323.6M1696.7 328.6V325.4M1700.1 330.8V327.2M1703.4 333.1V330M1706.8 339.8V334M1710.3 340.4V336.9M1713.8 348.4V339.7M1717.1 351.8V343.1M1720.5 357.4V346.6M1723.9 355.1V344.5M1727.3 350.3V343.9M1730.6 355.2V347.5M1734 352.5V346M1737.3 349.2V341.1M1740.8 338.9V333.6M1744.2 331.1V328.6M1747.4 329.2V324.8M1750.8 328.7V322.6M1754.3 332.8V321.3M1757.4 355.2V322.3M1761 370.1V325M1764.5 384.6V327.1M1767.8 399.9V328.2M1771 389.6V328.5M1774.4 397.4V328.8M1777.9 404.6V329.1M1781.2 406.5V330M1784.7 408.5V330.1M1788.2 403.7V329.9M1791.4 410.4V330.3M1794.9 418.2V331M1798.1 423.2V332.1M1801.5 426.5V332.7M1804.9 418.9V332.9M1808.3 428.3V333M1811.8 433.9V333.4M1815.3 431.7V333.1M1818.8 417.2V332.8M1822.3 416.7V332.2M1825.7 423.5V331.6M1829.1 408.5V331.2M1832.4 402.7V330.6M1835.7 412.1V330M1839.2 400.2V329.7M1842.6 406.5V329.2M1846.1 394.4V328.4M1849.6 391.2V327.4M1852.9 371.7V325.4M1856.3 353.9V322.2M1859.6 336.9V319.8M1863 335.5V319.7M1866.5 331.6V319M1869.9 326.7V318.4M1688.2 317V323.2M1693.5 317V325.3M1702 317V331.7M1706.3 317V339M1714.8 317V348.7M1720.2 317V357.3M1726.5 317V352M1731.9 317V360.5M1737.2 317V349.8M1742.5 317V333.8M1749 317V327.4M1754.2 317V331.7M1757.4 317V355.1M1761.7 317V378.6M1766 317V397.8M1769.2 317V399.9M1777.7 317V405.2M1782 317V413.7M1788.3 317V411.6M1793.7 317V417M1797.9 317V427.6M1802.2 317V433M1807.5 317V434M1811.8 317V437.2M1816 317V435M1820.3 317V431.8M1824.6 317V425.5M1829.9 317V420.1M1835.2 317V412.7M1841.6 317V408.4M1849 317V395.6M1852.3 317V382.8M1855.5 317V360.5M1858.7 317V337M1864 317V336M1867.2 317V329.6M1872.5 317V323.2" stroke="#a2142f" stroke-width="2.0" fill="none"/>
<path d="M1894.6 317.6 1895.6 316.6 1896.6 319.3 1897.6 320.5 1898.6 320.5 1899.6 320 1900.6 317 1901.6 315.1 1902.6 316.5 1903.6 314.6 1904.6 316 1905.6 317.2 1906.6 317.7 1907.6 314.1 1908.6 313.4 1909.6 315.2 1910.6 316.6 1911.6 313.7 1912.6 314 1913.6 313.3 1914.6 316 1915.6 317.8 1916.6 321 1917.6 320.9 1918.6 317.2 1919.6 313 1920.6 314.2 1921.6 315.8 1922.6 316.7 1923.6 317.5 1924.6 320.7 1925.6 319.4 1926.6 318.1 1927.6 317.5 1928.6 319.1 1929.6 318.5 1930.6 320.6 1931.6 320.7 1932.6 321.2 1933.6 318 1934.6 315.2 1935.6 313 1936.6 319.3 1937.6 314.7 1938.6 320.6 1939.6 316.5 1940.6 319.8 1941.6 309.9 1942.6 317.4 1943.6 309.8 1944.6 320.9 1945.6 311.2 1946.6 321.6 1947.6 311.8 1948.6 319.9 1949.6 314.6 1950.6 321.9 1951.6 313 1952.6 321.3 1953.6 313 1954.6 319.3 1955.6 311.9 1956.6 324.1 1957.6 314.5 1958.6 320.3 1959.6 315 1960.6 319.3 1961.6 316.8 1962.6 323.4 1963.6 311.7 1964.6 320.1 1965.6 308 1966.6 322.2 1967.6 314.5 1968.6 321.6 1969.6 314.7 1970.6 318.4 1971.6 309 1972.6 318.9 1973.6 315.8 1974.6 323.6 1975.6 315.6 1976.6 320.8 1977.6 312.7 1978.6 320.2 1979.6 311.2 1980.6 319.9 1981.6 310.9 1982.6 320.4 1983.6 315 1984.6 326 1985.6 313.5 1986.6 322.7 1987.6 313.5 1988.6 320.4 1989.6 310.9 1990.6 321.6 1991.6 312.4 1992.6 321.1 1993.6 309.7 1994.6 320.7 1995.6 315.1 1996.6 322.5 1997.6 314.4 1998.6 322.8 1999.6 311.7 2000.6 319.2 2001.6 314.1 2002.6 325.6 2003.6 312.1 2004.6 321 2005.6 313.8 2006.6 325.1 2007.6 314.1 2008.6 320.3 2009.6 312.6 2010.6 320.8 2011.6 309.9 2012.6 321.4 2013.6 313.9 2014.6 323 2015.6 313.7 2016.6 324.6 2017.6 314.9 2018.6 320.2 2019.6 311.2 2020.6 318.2 2021.6 309.6 2022.6 317.7 2023.6 311.3 2024.6 320.4 2025.6 311.7 2026.6 320.3 2027.6 314 2028.6 319.8 2029.6 311.9 2030.6 321.8 2031.6 313.7 2032.6 320.4 2033.6 311.2 2034.6 323.2 2035.6 312.7 2036.6 322.4 2037.6 312.5 2038.6 321.7 2039.6 316.7 2040.6 324.9 2041.6 314.1 2042.6 319.1 2043.6 311.5 2044.6 320.7 2045.6 308.6 2046.6 317.2 2047.6 313.3 2048.6 322.8 2049.6 313.5 2050.6 320 2051.6 310.6 2052.6 320.6 2053.6 314.1 2054.6 322.4 2055.6 312.3 2056.6 320 2057.6 313.9 2058.6 317.5 2059.6 313 2060.6 323.7 2061.6 315.3 2062.6 320.3 2063.6 310.6 2064.6 319.5 2065.6 313.9 2066.6 322.8 2067.6 311.3 2068.6 320.3 2069.6 310.7 2070.6 319.6 2071.6 311.2 2072.6 317.2 2073.6 309.2 2074.6 320.1 2075.6 313 2076.6 321.6 2077.6 311.2 2078.6 320.5 2079.6 309.9 2080.6 322.6 2081.6 314.3 2082.6 322.7 2083.6 311.1 2084.6 321.5 2085.6 312.3 2086.6 320.6 2087.6 310.7 2088.6 321.7 2089.6 314.5 2090.6 320 2091.6 311.8 2092.6 320.6 2093.6 315.3 2094.6 325.8 2095.6 314.3 2096.6 321.7 2097.6 313.8 2098.6 322 2099.6 313.6 2100.6 324.2 2101.6 315.5 2102.6 320.5 2103.6 314.8 2104.6 323 2105.6 314.3 2106.6 324 2107.6 314 2108.6 315.9 2109.6 309.1 2110.6 320.6 2111.6 314.8 2112.6 319 2113.6 309.6 2114.6 318.6 2115.6 314.2 2116.6 321.2 2117.6 314.6 2118.6 320.7 2119.6 310 2120.6 319.3 2121.6 310.3 2122.6 315.7 2123.6 310 2124.6 318.3 2125.6 310.4 2126.6 319.5 2127.6 311.3 2128.6 321.2 2129.6 310 2130.6 317.9 2131.6 313.6 2132.6 320.3 2133.6 311.2 2134.6 318.8 2135.6 312.2 2136.6 319.3 2137.6 314.5 2138.6 325.1 2139.6 314.9 2140.6 320.7 2141.6 310.4 2142.6 319.8 2143.6 308.2 2144.6 319.7 2145.6 314.5 2146.6 325 2147.6 313.8 2148.6 318.4 2149.6 313.2 2150.6 320.9 2151.6 313.3 2152.6 319.3 2153.6 315.3 2154.6 323.3 2155.6 316.7 2156.6 321.2 2157.6 316.9 2158.6 320.3 2159.6 311.8 2160.6 311.1 2161.6 311.3 2162.6 316.3 2163.6 313.5 2164.6 316.4 2165.6 316.3 2166.6 318.6 2167.6 318.9 2168.6 319.1 2169.6 315 2170.6 316.8 2171.6 316.3 2172.6 318 2173.6 317.8 2174.6 320.4 2175.6 317.8 2176.6 315.4 2177.6 316.2 2178.6 320.4 2179.6 318.1 2180.6 319.5 2181.6 316.9 2182.6 317.1 2183.6 317.3 2184.6 319.3 2185.6 316.5 2186.6 316 2187.6 312.6 2188.6 313.8 2189.6 312.5 2190.6 314.2 2191.6 314.2 2192.6 315.6 2193.6 314.6 2194.6 317 2195.6 315.9 2196.6 318.7 2197.6 317.8 2198.6 315.8 2199.6 312.3 2200.6 315.7 2201.6 316 2202.6 316.9 2203.6 315.2 2204.6 317 2205.6 316.2 2206.6 316 2207.6 312.2 2208.6 315.6 2209.6 318.1 2210.6 319.2 2211.6 316 2212.6 314.5 2213.6 313 2214.6 314.8 2215.6 312 2216.6 314.1 2217.6 312.2 2218.6 313.4 2219.6 313.5" stroke="#ff00ff" stroke-width="1.9" fill="none" stroke-linejoin="round"/>
<path d="M1894.6 317 1895.6 317 1896.6 317 1897.6 317 1898.6 317 1899.6 317 1900.6 317 1901.6 317 1902.6 317 1903.6 317 1904.6 317 1905.6 317 1906.6 317 1907.6 317 1908.6 317 1909.6 317 1910.6 317 1911.6 317 1912.6 317 1913.6 317 1914.6 317 1915.6 317 1916.6 317 1917.6 317 1918.6 317 1919.6 317 1920.6 317 1921.6 317 1922.6 317 1923.6 317 1924.6 317 1925.6 317 1926.6 317 1927.6 317 1928.6 317 1929.6 317 1930.6 317 1931.6 317 1932.6 317 1933.6 317 1934.6 317 1935.6 317 1936.6 313.1 1937.6 308.4 1938.6 310.9 1939.6 313.5 1940.6 309 1941.6 297.7 1942.6 290.4 1943.6 283.7 1944.6 276.9 1945.6 276.8 1946.6 281.1 1947.6 283.1 1948.6 279.7 1949.6 276.4 1950.6 276.3 1951.6 276.5 1952.6 276.8 1953.6 277.2 1954.6 277.7 1955.6 278.2 1956.6 278.8 1957.6 275.8 1958.6 271.4 1959.6 267 1960.6 262.6 1961.6 263.2 1962.6 266 1963.6 268.2 1964.6 269 1965.6 269.7 1966.6 270.4 1967.6 270.4 1968.6 270.2 1969.6 270 1970.6 269.8 1971.6 269.6 1972.6 269.8 1973.6 270.3 1974.6 270.8 1975.6 271 1976.6 270.5 1977.6 270 1978.6 269.6 1979.6 269.1 1980.6 268.6 1981.6 270 1982.6 272.1 1983.6 274.2 1984.6 275.4 1985.6 275.7 1986.6 276 1987.6 276.2 1988.6 276.5 1989.6 276.8 1990.6 276.1 1991.6 275.2 1992.6 274.4 1993.6 273.6 1994.6 272.7 1995.6 272.1 1996.6 271.9 1997.6 271.7 1998.6 271.5 1999.6 271.4 2000.6 271.2 2001.6 271.3 2002.6 271.7 2003.6 272 2004.6 272.4 2005.6 272.7 2006.6 273 2007.6 272.8 2008.6 272.7 2009.6 272.5 2010.6 272.4 2011.6 272.2 2012.6 272 2013.6 271.9 2014.6 271.7 2015.6 271.5 2016.6 271.3 2017.6 271.1 2018.6 270.2 2019.6 269.1 2020.6 268.1 2021.6 267.1 2022.6 266 2023.6 265.6 2024.6 266.2 2025.6 266.7 2026.6 267.3 2027.6 267.8 2028.6 268.4 2029.6 269 2030.6 269.7 2031.6 270.3 2032.6 271 2033.6 271.6 2034.6 269.7 2035.6 267.7 2036.6 265.8 2037.6 264.9 2038.6 264.2 2039.6 263.6 2040.6 263.7 2041.6 264.3 2042.6 265 2043.6 265.6 2044.6 266.3 2045.6 266.2 2046.6 266 2047.6 265.7 2048.6 265.5 2049.6 265.3 2050.6 265 2051.6 264.4 2052.6 263.3 2053.6 262.1 2054.6 261.4 2055.6 262.3 2056.6 263.3 2057.6 264.2 2058.6 265.1 2059.6 266.1 2060.6 266.8 2061.6 267.3 2062.6 267.9 2063.6 268.4 2064.6 269 2065.6 269.6 2066.6 269.2 2067.6 268.9 2068.6 268.6 2069.6 268.3 2070.6 268 2071.6 268.3 2072.6 268.5 2073.6 268.8 2074.6 269 2075.6 269.3 2076.6 269.5 2077.6 269 2078.6 268.2 2079.6 267.5 2080.6 266.7 2081.6 266 2082.6 265.4 2083.6 265.4 2084.6 265.4 2085.6 267.3 2086.6 269.8 2087.6 272.2 2088.6 273.4 2089.6 273.9 2090.6 274.3 2091.6 274.7 2092.6 275.2 2093.6 275.5 2094.6 275.8 2095.6 276 2096.6 276.3 2097.6 276.6 2098.6 276.8 2099.6 276.8 2100.6 276.8 2101.6 276.8 2102.6 276.8 2103.6 276.8 2104.6 277.6 2105.6 279 2106.6 280.3 2107.6 281.6 2108.6 282.9 2109.6 282.8 2110.6 282.4 2111.6 282.1 2112.6 281.8 2113.6 281.5 2114.6 281.1 2115.6 281.7 2116.6 282.9 2117.6 284.2 2118.6 285.4 2119.6 286.6 2120.6 287.5 2121.6 288.2 2122.6 288.9 2123.6 289.8 2124.6 291 2125.6 292.1 2126.6 293.3 2127.6 294.4 2128.6 297.1 2129.6 300.8 2130.6 304.5 2131.6 306.3 2132.6 307 2133.6 307.6 2134.6 308.2 2135.6 308.8 2136.6 309.5 2137.6 310 2138.6 310.6 2139.6 311.1 2140.6 311.7 2141.6 312.3 2142.6 312.7 2143.6 312.9 2144.6 313 2145.6 313.2 2146.6 313.3 2147.6 313.5 2148.6 313.7 2149.6 313.9 2150.6 314.1 2151.6 314.3 2152.6 314.4 2153.6 314.6 2154.6 314.8 2155.6 315 2156.6 315.2 2157.6 315.4 2158.6 315.5 2159.6 315.6 2160.6 315.8 2161.6 315.9 2162.6 316.1 2163.6 316.2 2164.6 316.3 2165.6 316.4 2166.6 316.4 2167.6 316.4 2168.6 316.5 2169.6 316.5 2170.6 316.5 2171.6 316.5 2172.6 316.6 2173.6 316.6 2174.6 316.6 2175.6 316.7 2176.6 316.7 2177.6 316.7 2178.6 316.7 2179.6 316.8 2180.6 316.8 2181.6 316.8 2182.6 316.8 2183.6 316.8 2184.6 316.8 2185.6 316.7 2186.6 316.7 2187.6 316.7 2188.6 316.7 2189.6 316.7 2190.6 316.7 2191.6 316.7 2192.6 316.7 2193.6 316.6 2194.6 316.6 2195.6 316.6 2196.6 316.6 2197.6 316.6 2198.6 316.6 2199.6 316.6 2200.6 316.6 2201.6 316.5 2202.6 316.5 2203.6 316.5 2204.6 316.5 2205.6 316.5 2206.6 316.5 2207.6 316.5 2208.6 316.5 2209.6 316.4 2210.6 316.4 2211.6 316.4 2212.6 316.4 2213.6 316.4 2214.6 316.4 2215.6 316.4 2216.6 316.4 2217.6 316.5 2218.6 317 2219.6 317 L2219.6 317 2218.6 317 2217.6 317 2216.6 317 2215.6 317 2214.6 317 2213.6 317 2212.6 317 2211.6 317 2210.6 317 2209.6 317 2208.6 317.3 2207.6 317.5 2206.6 317.5 2205.6 317.5 2204.6 317.5 2203.6 317.5 2202.6 317.5 2201.6 317.5 2200.6 317.5 2199.6 317.5 2198.6 317.5 2197.6 317.5 2196.6 317.5 2195.6 317.5 2194.6 317.5 2193.6 317.5 2192.6 317.5 2191.6 317.5 2190.6 317.5 2189.6 317.5 2188.6 317.5 2187.6 317.5 2186.6 317.5 2185.6 317.5 2184.6 317.4 2183.6 317.4 2182.6 317.4 2181.6 317.4 2180.6 317.4 2179.6 317.3 2178.6 317.3 2177.6 317.3 2176.6 317.3 2175.6 317.3 2174.6 317.2 2173.6 317.2 2172.6 317.2 2171.6 317.2 2170.6 317.2 2169.6 317.1 2168.6 317.1 2167.6 317.1 2166.6 317.1 2165.6 317.1 2164.6 317.1 2163.6 317 2162.6 317 2161.6 317.1 2160.6 317.2 2159.6 317.4 2158.6 317.5 2157.6 317.7 2156.6 317.8 2155.6 318 2154.6 318.1 2153.6 318.3 2152.6 318.4 2151.6 318.6 2150.6 318.9 2149.6 319.3 2148.6 319.7 2147.6 320.1 2146.6 320.4 2145.6 320.8 2144.6 321.2 2143.6 321.6 2142.6 321.8 2141.6 321.6 2140.6 321.5 2139.6 321.4 2138.6 321.3 2137.6 321.2 2136.6 321.1 2135.6 321 2134.6 320.8 2133.6 320.7 2132.6 322.5 2131.6 325 2130.6 327.5 2129.6 329.9 2128.6 332.3 2127.6 334.7 2126.6 336.5 2125.6 337.4 2124.6 338.3 2123.6 339.1 2122.6 340 2121.6 340.6 2120.6 341.2 2119.6 341.8 2118.6 342.5 2117.6 343.7 2116.6 345.1 2115.6 346.5 2114.6 347.9 2113.6 348.9 2112.6 349.5 2111.6 350.2 2110.6 350.9 2109.6 351.6 2108.6 352.3 2107.6 352.9 2106.6 353.4 2105.6 354 2104.6 354.6 2103.6 355.2 2102.6 355.8 2101.6 356.5 2100.6 357.2 2099.6 357.8 2098.6 358.5 2097.6 359.2 2096.6 359.9 2095.6 360.5 2094.6 361 2093.6 361.6 2092.6 362.2 2091.6 362.8 2090.6 363.3 2089.6 363.9 2088.6 364 2087.6 364.1 2086.6 364.1 2085.6 364.2 2084.6 364.3 2083.6 364.4 2082.6 364.8 2081.6 365.4 2080.6 366 2079.6 366.6 2078.6 367.2 2077.6 367.3 2076.6 366.5 2075.6 365.7 2074.6 364.9 2073.6 364.1 2072.6 363.4 2071.6 363.5 2070.6 363.7 2069.6 363.9 2068.6 364.1 2067.6 364.3 2066.6 364.3 2065.6 364.2 2064.6 364 2063.6 363.9 2062.6 363.7 2061.6 363.6 2060.6 363.5 2059.6 363.5 2058.6 364.3 2057.6 365 2056.6 365.8 2055.6 366.5 2054.6 367.3 2053.6 368 2052.6 368.2 2051.6 368.3 2050.6 368.4 2049.6 368.5 2048.6 368.6 2047.6 368.7 2046.6 368.8 2045.6 368.9 2044.6 369 2043.6 369.1 2042.6 369.2 2041.6 369.2 2040.6 369.2 2039.6 369.2 2038.6 369.2 2037.6 369.2 2036.6 369.2 2035.6 369.2 2034.6 369.2 2033.6 369 2032.6 368.6 2031.6 368.3 2030.6 367.9 2029.6 367.5 2028.6 367.2 2027.6 366.8 2026.6 366.7 2025.6 367.4 2024.6 368.2 2023.6 369 2022.6 369.8 2021.6 370.6 2020.6 371.4 2019.6 372.2 2018.6 371.8 2017.6 370.9 2016.6 370 2015.6 369 2014.6 368.1 2013.6 367.6 2012.6 367.5 2011.6 367.4 2010.6 367.3 2009.6 367.2 2008.6 367.1 2007.6 367.1 2006.6 367.1 2005.6 367.1 2004.6 367.1 2003.6 367.1 2002.6 367.1 2001.6 367 2000.6 366.9 1999.6 366.9 1998.6 366.8 1997.6 366.7 1996.6 366.6 1995.6 366.4 1994.6 366.1 1993.6 365.8 1992.6 365.5 1991.6 365.2 1990.6 364.8 1989.6 364.5 1988.6 364.6 1987.6 364.6 1986.6 364.7 1985.6 364.8 1984.6 364.9 1983.6 365 1982.6 365.1 1981.6 365.3 1980.6 365.6 1979.6 365.8 1978.6 366 1977.6 366.3 1976.6 366.6 1975.6 367.2 1974.6 367.7 1973.6 368.3 1972.6 368.9 1971.6 369.5 1970.6 370.1 1969.6 371 1968.6 372 1967.6 372.9 1966.6 373.9 1965.6 374.9 1964.6 374.4 1963.6 373.6 1962.6 372.8 1961.6 372 1960.6 371.1 1959.6 370.3 1958.6 369.4 1957.6 368.5 1956.6 367.6 1955.6 366.8 1954.6 366.3 1953.6 366 1952.6 365.6 1951.6 365.3 1950.6 365 1949.6 364.7 1948.6 364 1947.6 362.8 1946.6 361.6 1945.6 359.9 1944.6 355.9 1943.6 351.9 1942.6 345.1 1941.6 334.2 1940.6 325.5 1939.6 322 1938.6 318.5 1937.6 317.5 1936.6 317.4 1935.6 317.3 1934.6 317.3 1933.6 317.2 1932.6 317.2 1931.6 317.1 1930.6 317 1929.6 317 1928.6 317 1927.6 317 1926.6 317 1925.6 317 1924.6 317 1923.6 317 1922.6 317 1921.6 317 1920.6 317 1919.6 317 1918.6 317 1917.6 317 1916.6 317 1915.6 317 1914.6 317 1913.6 317 1912.6 317 1911.6 317 1910.6 317 1909.6 317 1908.6 317 1907.6 317 1906.6 317 1905.6 317 1904.6 317 1903.6 317 1902.6 317 1901.6 317 1900.6 317 1899.6 317 1898.6 317 1897.6 317 1896.6 317 1895.6 317 1894.6 317Z" fill="#ff00ff"/>
<path d="M1938.1 306.3V321.3M1941.4 294.5V341.7M1944.7 257.3V385M1947.9 262.9V398.1M1951.2 266.9V405.6M1954.2 260.4V394M1957.4 265.1V409.1M1960.7 234.1V393.7M1963.8 247.1V405.8M1967.1 255.3V397.5M1970.2 258.9V410M1973.6 251.6V394.9M1976.8 258.5V395.5M1979.8 259.4V403.9M1983 262.6V397.4M1986.2 257.7V401.3M1989.3 270.8V392.2M1992.5 268.3V405.8M1995.6 262.2V389.8M1998.8 254.9V398.5M2002 259.2V410.8M2005.3 264.2V410M2008.4 266.1V405.4M2011.7 257.2V405M2014.8 262.2V407.7M2017.9 255.1V398M2021.1 258.7V399M2024.4 251.5V414.1M2027.7 250.9V410.9M2030.8 252.3V391.6M2033.9 259.1V408.3M2037.2 250.6V411.6M2040.4 256.4V403.4M2043.6 239.2V415.2M2046.7 247.2V390.6M2050 252.9V390.5M2053.3 234.3V408.2M2056.4 243.9V389.4M2059.8 258.6V406M2062.9 260.9V399.6M2066 248V387M2069.2 253.1V398.9M2072.6 243.1V387.8M2075.5 255V386.8M2078.9 247.4V406.8M2082.1 247V403.8M2085.1 240V386.8M2088.2 256V402M2091.5 257.7V395.5M2094.8 263V388.8M2097.9 264.1V384.7M2101.1 264.7V382.9M2104.4 257.7V389M2107.6 263.3V383.7M2110.7 270.5V372.5M2113.9 274.3V372.3M2117.2 277.7V367.1M2120.3 271.5V364.7M2123.4 282V360.9M2126.7 283.2V349.6M2130 296.2V342.3M2133.2 301.9V327M2136.4 303.8V325.7M2139.6 307.1V327.5M2142.8 308.5V329.2M2145.8 309.4V325.9M2149.1 309V325.1M2152.4 310.4V322.8M2155.5 310.5V321.6" stroke="#ff00ff" stroke-width="1.00" stroke-opacity="0.65" fill="none"/>
<path d="M1936.5 308.5V311.6M1939.8 309.1V311.9M1943.1 269.3V287.7M1946.3 260.2V281.2M1949.6 260.2V278.2M1952.6 252.5V278.4M1955.8 260.7V279.9M1959.1 239.8V271.7M1962.2 238.9V267.7M1965.5 245.6V272M1968.6 247.5V272.6M1972 246.9V272M1975.2 245.5V273.3M1978.2 243.6V272.1M1981.4 250.6V272M1984.6 249.7V277.2M1987.7 250.9V278M1990.9 255.8V277.6M1994 246.8V275.3M1997.2 253.1V274M2000.4 245.2V273.4M2003.7 250V274.2M2006.8 246.1V275M2010.1 246.4V274.6M2013.2 250.4V274.1M2016.3 253.3V273.6M2019.5 244.2V271.7M2022.8 235.1V268.6M2026.1 237.5V269.7M2029.2 241.6V271.2M2032.3 244.5V273.1M2035.6 249.4V270.3M2038.8 241.1V267M2042 236.7V267.5M2045.1 239V269.1M2048.4 239.2V268.3M2051.7 245V267.2M2054.8 229.2V264.8M2058.2 246V267.6M2061.3 238.3V269.8M2064.4 249.6V271.3M2067.6 248.1V271.4M2071 244V270.7M2073.9 247.5V271.3M2077.3 241V271.6M2080.5 246.1V269.5M2083.5 235.9V268.2M2086.6 243.8V272.2M2089.9 247.8V276M2093.2 253.6V277.2M2096.3 257.1V278M2099.5 261.5V278.5M2102.8 259.2V278.5M2106 261.9V280.8M2109.1 263.3V284M2112.3 260.2V283M2115.6 263.8V282.9M2118.7 267.4V286.4M2121.8 272.1V288.9M2125.1 279.1V291.7M2128.4 285.9V296.1M2131.6 297.8V305M2134.8 302.4V306.9M2138 302.9V308.6M2141.2 306.9V310.2M2144.2 308.2V311M2147.5 308.4V311.5M2150.8 309.5V312M2153.9 310.5V312.6M1937.4 300V317M1940.1 310.5V317M1941.7 282.5V317M1945 248.2V317M1947.3 263.4V317M1949.7 251V317M1952.9 252.2V317M1956.9 255.4V317M1960.9 228.2V317M1963.3 238.6V317M1966.8 242.6V317M1972.1 241V317M1975.3 243.4V317M1980.9 239.4V317M1984.1 249.8V317M1989.7 252.2V317M1995.3 245V317M2000.9 243.4V317M2006.5 246.3V317M2012 245V317M2017.7 243.4V317M2023.2 234.6V317M2028.8 239.4V317M2033.6 244.2V317M2036.8 234.6V317M2040 231.4V317M2044.8 236.2V317M2051.2 233.8V317M2054.4 228.2V317M2060 236.2V317M2065.6 241V317M2070.4 238.6V317M2076.8 241V317M2082.4 234.6V317M2084.8 234.6V317M2088 246.6V317M2092.8 249.8V317M2098.4 252.2V317M2104 252.2V317M2108.7 261.8V317M2115 258.6V317M2120 268V317M2123.1 271.3V317M2128 280V317M2131 297V317M2136.7 302.5V317M2142.3 307.3V317M2148.7 308.9V317" stroke="#ff00ff" stroke-width="2.4" fill="none"/>
<path d="M1939.8 330.6V324M1943.1 379.5V348.4M1946.3 397.6V358.7M1949.6 405.8V361.7M1952.6 414.8V362.6M1955.8 416.3V363.8M1959.1 415.8V366.4M1962.2 420.6V368.7M1965.5 432.3V371M1968.6 412.7V368.2M1972 421V365.9M1975.2 408.4V364.2M1978.2 412.4V363M1981.4 403.2V362.3M1984.6 405.3V361.9M1987.7 415.6V361.7M1990.9 415.2V361.9M1994 407V362.8M1997.2 407.9V363.5M2000.4 416.3V363.7M2003.7 410V363.9M2006.8 419.3V363.9M2010.1 410.6V364M2013.2 421.8V364.3M2016.3 411.4V366.2M2019.5 429V368.5M2022.8 414.7V366.2M2026.1 407.8V363.9M2029.2 417.5V364.1M2032.3 419.3V365.2M2035.6 424.2V365.8M2038.8 417.5V365.8M2042 415.4V365.8M2045.1 420.2V365.6M2048.4 421.1V365.3M2051.7 408.9V365M2054.8 415.6V363.9M2058.2 407V361.6M2061.3 409.9V360.7M2064.4 407.3V361.1M2067.6 403.7V361.4M2071 406.8V360.8M2073.9 402V361.5M2077.3 416V363.8M2080.5 411.9V363M2083.5 412.7V361.4M2086.6 411.3V361.2M2089.9 408.9V360.8M2093.2 397.7V359.2M2096.3 398.3V357.5M2099.5 399V355.6M2102.8 385.5V353.6M2106 382.9V351.9M2109.1 388.5V350.3M2112.3 384.9V348.3M2115.6 371.4V345.4M2118.7 367.2V341.7M2121.8 363.2V339.9M2125.1 357.9V337.6M2128.4 351.1V333.1M2131.6 334.2V326M2134.8 327.1V322.3M2138 328.5V322.6M2141.2 328.6V322.9M2144.2 328.1V322.7M2147.5 326.2V321.6M2150.8 324.7V320.5M1940.9 317V339.2M1943 317V385M1945.8 317V407.4M1949 317V415M1955.3 317V419M1959.6 317V426.6M1965.4 317V436.2M1970.3 317V426.6M1976.7 317V419M1983 317V416M1989.5 317V415M1995.8 317V419M2002.2 317V420.2M2008.6 317V420.2M2014 317V421.2M2019.3 317V430.8M2026.8 317V419M2034.2 317V424.4M2042.7 317V424.4M2053.4 317V422.3M2059.8 317V412.7M2067.3 317V414.8M2072.6 317V412.7M2078 317V421.2M2083.2 317V414.8M2089.6 317V413.8M2097 317V405.3M2102.4 317V397.8M2108.8 317V390.3M2114.2 317V382.9M2118.4 317V371.2M2122.7 317V365.8M2127 317V358.4M2130.1 317V343.4M2133.3 317V327.4M2143 317V329.6M2151.5 317V323.2" stroke="#ff00ff" stroke-width="2.3" fill="none"/>
<text x="317" y="56.0" font-family="Liberation Sans, sans-serif" fill="#262626" font-size="21.5" text-anchor="end">0.6</text>
<text x="317" y="145.3" font-family="Liberation Sans, sans-serif" fill="#262626" font-size="21.5" text-anchor="end">0.4</text>
<text x="317" y="234.6" font-family="Liberation Sans, sans-serif" fill="#262626" font-size="21.5" text-anchor="end">0.2</text>
<text x="317" y="323.9" font-family="Liberation Sans, sans-serif" fill="#262626" font-size="21.5" text-anchor="end">0</text>
<text x="317" y="413.2" font-family="Liberation Sans, sans-serif" fill="#262626" font-size="21.5" text-anchor="end">-0.2</text>
<text x="317" y="502.5" font-family="Liberation Sans, sans-serif" fill="#262626" font-size="21.5" text-anchor="end">-0.4</text>
<text x="317" y="591.8" font-family="Liberation Sans, sans-serif" fill="#262626" font-size="21.5" text-anchor="end">-0.6</text>
<text x="325.0" y="611" font-family="Liberation Sans, sans-serif" fill="#262626" font-size="21.5" text-anchor="middle">0</text>
<text x="648.0" y="611" font-family="Liberation Sans, sans-serif" fill="#262626" font-size="21.5" text-anchor="middle">0.5</text>
<text x="971.0" y="611" font-family="Liberation Sans, sans-serif" fill="#262626" font-size="21.5" text-anchor="middle">1</text>
<text x="1294.0" y="611" font-family="Liberation Sans, sans-serif" fill="#262626" font-size="21.5" text-anchor="middle">1.5</text>
<text x="1617.0" y="611" font-family="Liberation Sans, sans-serif" fill="#262626" font-size="21.5" text-anchor="middle">2</text>
<text x="1940.0" y="611" font-family="Liberation Sans, sans-serif" fill="#262626" font-size="21.5" text-anchor="middle">2.5</text>
<text x="2263.0" y="611" font-family="Liberation Sans, sans-serif" fill="#262626" font-size="21.5" text-anchor="middle">3</text>
<text x="1294" y="639" font-family="Liberation Sans, sans-serif" fill="#262626" font-size="23" text-anchor="middle">Time (s)</text>
<text x="0" y="0" font-family="Liberation Sans, sans-serif" fill="#262626" font-size="23" text-anchor="middle" transform="translate(269.5 317.2) rotate(-90)">Amplitude</text>
<text x="1294" y="41" font-family="Liberation Sans, sans-serif" fill="#262626" font-size="23" font-weight="bold" text-anchor="middle">Sentence 1CO-013-018 (Colored by Word)</text>
</svg>
</body></html>
